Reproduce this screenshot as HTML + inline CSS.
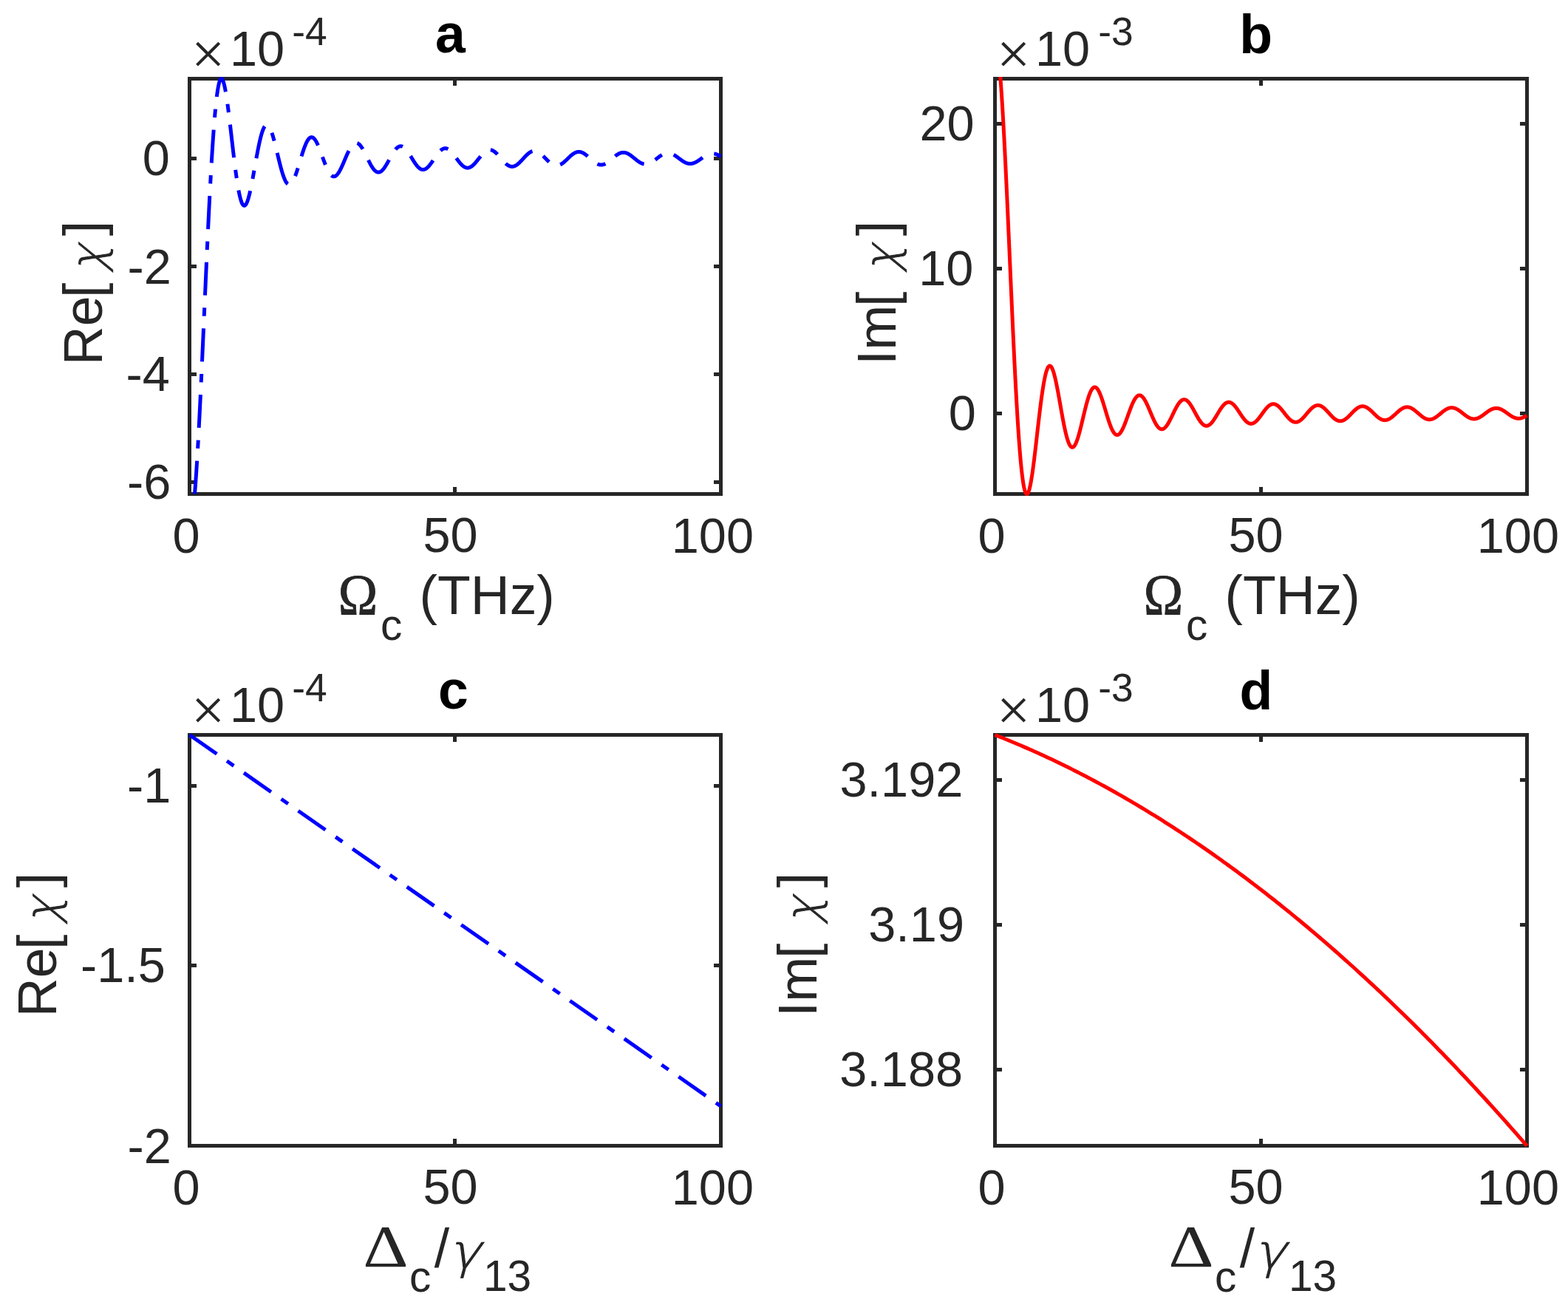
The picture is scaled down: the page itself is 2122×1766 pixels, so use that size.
<!DOCTYPE html>
<html lang="en"><head><meta charset="utf-8"><title>Susceptibility figure</title>
<style>
html,body{margin:0;padding:0;background:#fff;}
body{width:2122px;height:1766px;overflow:hidden;}
svg{display:block;}
text{font-family:"Liberation Sans",sans-serif;fill:#262626;}
.tk{font-size:66.67px;}
.ex{font-size:53.33px;}
.lb{font-size:73.33px;}
.sb{font-size:58.67px;}
.tt{font-size:73.33px;font-weight:bold;fill:#000;}
.gr{font-family:"Liberation Serif",serif;}
.om{font-family:"Liberation Serif",serif;stroke:#262626;stroke-width:0.9px;}
.gi{font-family:"Liberation Serif",serif;font-style:italic;}
.mi{font-family:"DejaVu Sans","Liberation Sans",sans-serif;font-weight:200;stroke:#262626;stroke-width:1px;}
</style></head><body>
<svg width="2122" height="1766" viewBox="0 0 2122 1766">
<rect width="2122" height="1766" fill="#fff"/>
<defs>
<clipPath id="clip-a"><rect x="254.0" y="104.0" width="724.0" height="567.0"/></clipPath>
<clipPath id="clip-b"><rect x="1344.0" y="104.0" width="725.0" height="567.0"/></clipPath>
<clipPath id="clip-c"><rect x="254.0" y="992.0" width="724.0" height="561.0"/></clipPath>
<clipPath id="clip-d"><rect x="1344.0" y="992.0" width="725.0" height="561.0"/></clipPath>
</defs>
<rect x="256.5" y="106.5" width="719.0" height="562.0" fill="none" stroke="#262626" stroke-width="5" shape-rendering="crispEdges"/>
<path d="M615.5 668.5v-9.5M615.5 106.5v9.5M256.5 214.5h9.5M975.5 214.5h-9.5M256.5 360.5h9.5M975.5 360.5h-9.5M256.5 506.5h9.5M975.5 506.5h-9.5M256.5 652.5h9.5M975.5 652.5h-9.5" fill="none" stroke="#262626" stroke-width="5" shape-rendering="crispEdges"/>
<rect x="1346.5" y="106.5" width="720.0" height="562.0" fill="none" stroke="#262626" stroke-width="5" shape-rendering="crispEdges"/>
<path d="M1706.5 668.5v-9.5M1706.5 106.5v9.5M1346.5 167.5h9.5M2066.5 167.5h-9.5M1346.5 363.5h9.5M2066.5 363.5h-9.5M1346.5 559.5h9.5M2066.5 559.5h-9.5" fill="none" stroke="#262626" stroke-width="5" shape-rendering="crispEdges"/>
<rect x="256.5" y="994.5" width="719.0" height="556.0" fill="none" stroke="#262626" stroke-width="5" shape-rendering="crispEdges"/>
<path d="M615.5 1550.5v-9.5M615.5 994.5v9.5M256.5 1063.0h9.5M975.5 1063.0h-9.5M256.5 1306.75h9.5M975.5 1306.75h-9.5" fill="none" stroke="#262626" stroke-width="5" shape-rendering="crispEdges"/>
<rect x="1346.5" y="994.5" width="720.0" height="556.0" fill="none" stroke="#262626" stroke-width="5" shape-rendering="crispEdges"/>
<path d="M1706.5 1550.5v-9.5M1706.5 994.5v9.5M1346.5 1055.0h9.5M2066.5 1055.0h-9.5M1346.5 1251.25h9.5M2066.5 1251.25h-9.5M1346.5 1447.5h9.5M2066.5 1447.5h-9.5" fill="none" stroke="#262626" stroke-width="5" shape-rendering="crispEdges"/>
<path d="M263.5 668.5L263.8 664.89L264.09 661.14L264.39 657.26L264.69 653.26L264.98 649.13L265.28 644.87L265.58 640.5L265.87 636.01L266.17 631.4L266.47 626.68L266.76 621.85L267.06 616.91L267.36 611.87L267.65 606.72L267.95 601.48L268.25 596.14L268.54 590.7L268.84 585.18L269.14 579.56L269.43 573.87L269.73 568.09L270.03 562.24L270.32 556.31L270.62 550.31L270.92 544.24L271.21 538.1L271.51 531.91L271.81 525.66L272.1 519.35L272.4 512.99L272.7 506.58L272.99 500.13L273.29 493.64L273.59 487.11L273.88 480.55L274.18 473.96L274.48 467.34L274.77 460.7L275.07 454.04L275.37 447.36L275.66 440.67L275.96 433.97L276.26 427.26L276.55 420.55L276.85 413.84L277.15 407.14L277.44 400.45L277.74 393.76L278.04 387.1L278.33 380.45L278.63 373.82L278.93 367.21L279.22 360.64L279.52 354.09L279.82 347.58L280.11 341.11L280.41 334.68L280.71 328.29L281 321.95L281.3 315.66L281.6 309.42L281.89 303.24L282.19 297.12L282.49 291.06L282.78 285.06L283.08 279.13L283.38 273.27L283.67 267.48L283.97 261.77L284.27 256.14L284.56 250.58L284.86 245.11L285.16 239.72L285.45 234.41L285.75 229.2L286.05 224.08L286.34 219.04L286.64 214.11L286.94 209.27L287.23 204.53L287.53 199.89L287.83 195.35L288.12 190.91L288.42 186.58L288.72 182.36L289.01 178.24L289.31 174.23L289.61 170.33L289.9 166.55L290.2 162.87L290.5 159.31L290.79 155.86L291.09 152.53L291.39 149.31L291.68 146.21L291.98 143.22L292.28 140.36L292.57 137.61L292.87 134.98L293.17 132.46L293.46 130.07L293.76 127.79L294.06 125.63L294.35 123.59L294.65 121.67L294.95 119.86L295.24 118.18L295.54 116.61L295.84 115.15L296.13 113.82L296.43 112.59L296.73 111.49L297.02 110.49L297.32 109.62L297.62 108.85L297.91 108.19L298.21 107.65L298.51 107.21L298.8 106.89L299.1 106.67L299.4 106.55L299.69 106.54L299.99 106.63L300.29 106.82L300.58 107.12L300.88 107.51L301.18 108L301.47 108.58L301.77 109.26L302.07 110.02L302.36 110.88L302.66 111.82L302.96 112.85L303.25 113.97L303.55 115.16L303.85 116.44L304.14 117.79L304.44 119.22L304.74 120.72L305.03 122.29L305.33 123.93L305.63 125.64L305.92 127.41L306.22 129.24L306.52 131.13L306.81 133.08L307.11 135.08L307.41 137.14L307.7 139.25L308 141.4L308.3 143.6L308.59 145.84L308.89 148.12L309.19 150.44L309.48 152.79L309.78 155.17L310.08 157.59L310.37 160.03L310.67 162.5L310.97 164.99L311.26 167.5L311.56 170.03L311.86 172.58L312.15 175.13L312.45 177.7L312.75 180.28L313.04 182.86L313.34 185.44L313.64 188.03L313.93 190.61L314.23 193.19L314.53 195.76L314.82 198.33L315.12 200.88L315.42 203.42L315.71 205.95L316.01 208.46L316.31 210.95L316.6 213.42L316.9 215.87L317.2 218.29L317.49 220.68L317.79 223.05L318.09 225.38L318.38 227.68L318.68 229.95L318.98 232.18L319.27 234.37L319.57 236.53L319.87 238.64L320.16 240.71L320.46 242.73L320.76 244.71L321.05 246.64L321.35 248.53L321.65 250.36L321.94 252.15L322.24 253.88L322.54 255.56L322.83 257.18L323.13 258.75L323.43 260.26L323.72 261.72L324.02 263.12L324.32 264.46L324.61 265.74L324.91 266.96L325.21 268.12L325.5 269.22L325.8 270.25L326.1 271.23L326.39 272.14L326.69 272.99L326.99 273.78L327.28 274.5L327.58 275.16L327.88 275.76L328.17 276.3L328.47 276.77L328.77 277.17L329.06 277.52L329.36 277.8L329.66 278.02L329.95 278.18L330.25 278.27L330.55 278.3L330.84 278.28L331.14 278.19L331.44 278.04L331.73 277.83L332.03 277.56L332.33 277.24L332.62 276.86L332.92 276.42L333.22 275.92L333.51 275.37L333.81 274.77L334.11 274.11L334.4 273.41L334.7 272.65L335 271.84L335.29 270.98L335.59 270.08L335.89 269.13L336.18 268.13L336.48 267.09L336.78 266.01L337.07 264.89L337.37 263.72L337.67 262.52L337.96 261.28L338.26 260.01L338.56 258.7L338.85 257.36L339.15 255.99L339.45 254.59L339.74 253.16L340.04 251.7L340.34 250.22L340.63 248.71L340.93 247.18L341.23 245.63L341.52 244.07L341.82 242.48L342.12 240.88L342.41 239.27L342.71 237.64L343.01 236L343.3 234.35L343.6 232.7L343.9 231.04L344.19 229.37L344.49 227.7L344.79 226.03L345.08 224.36L345.38 222.69L345.68 221.03L345.97 219.37L346.27 217.72L346.57 216.07L346.86 214.43L347.16 212.81L347.46 211.19L347.75 209.59L348.05 208.01L348.35 206.44L348.64 204.89L348.94 203.36L349.24 201.85L349.53 200.36L349.83 198.89L350.13 197.45L350.42 196.03L350.72 194.64L351.02 193.28L351.31 191.94L351.61 190.64L351.91 189.37L352.2 188.13L352.5 186.92L352.8 185.74L353.09 184.6L353.39 183.5L353.69 182.43L353.98 181.4L354.28 180.41L354.58 179.45L354.87 178.54L355.17 177.66L355.47 176.83L355.76 176.03L356.06 175.28L356.36 174.57L356.65 173.9L356.95 173.27L357.25 172.69L357.54 172.15L357.84 171.66L358.14 171.2L358.43 170.8L358.73 170.43L359.03 170.11L359.32 169.84L359.62 169.61L359.92 169.42L360.21 169.28L360.51 169.18L360.81 169.12L361.1 169.11L361.4 169.14L361.7 169.22L361.99 169.34L362.29 169.5L362.59 169.7L362.88 169.94L363.18 170.23L363.48 170.55L363.77 170.92L364.07 171.33L364.37 171.77L364.66 172.25L364.96 172.77L365.26 173.33L365.55 173.93L365.85 174.56L366.15 175.22L366.44 175.92L366.74 176.65L367.04 177.41L367.33 178.21L367.63 179.03L367.93 179.89L368.22 180.77L368.52 181.68L368.82 182.62L369.11 183.58L369.41 184.57L369.71 185.58L370 186.61L370.3 187.67L370.6 188.74L370.89 189.84L371.19 190.95L371.49 192.08L371.78 193.22L372.08 194.38L372.38 195.55L372.67 196.73L372.97 197.93L373.27 199.13L373.56 200.34L373.86 201.56L374.16 202.79L374.45 204.02L374.75 205.26L375.05 206.5L375.34 207.74L375.64 208.98L375.94 210.21L376.23 211.45L376.53 212.68L376.83 213.91L377.12 215.14L377.42 216.35L377.72 217.56L378.01 218.76L378.31 219.96L378.61 221.14L378.9 222.3L379.2 223.46L379.5 224.6L379.79 225.72L380.09 226.83L380.39 227.92L380.68 229L380.98 230.05L381.28 231.09L381.57 232.1L381.87 233.1L382.17 234.07L382.46 235.01L382.76 235.94L383.06 236.83L383.35 237.71L383.65 238.55L383.95 239.37L384.24 240.16L384.54 240.93L384.84 241.66L385.13 242.37L385.43 243.04L385.73 243.69L386.02 244.3L386.32 244.89L386.62 245.44L386.91 245.96L387.21 246.45L387.51 246.9L387.8 247.32L388.1 247.71L388.4 248.06L388.69 248.39L388.99 248.67L389.29 248.93L389.58 249.15L389.88 249.33L390.18 249.48L390.47 249.6L390.77 249.68L391.07 249.73L391.36 249.75L391.66 249.73L391.96 249.67L392.25 249.59L392.55 249.47L392.85 249.32L393.14 249.13L393.44 248.92L393.74 248.67L394.03 248.39L394.33 248.08L394.63 247.73L394.92 247.36L395.22 246.96L395.52 246.53L395.81 246.07L396.11 245.58L396.41 245.06L396.7 244.52L397 243.95L397.3 243.36L397.59 242.74L397.89 242.09L398.19 241.42L398.48 240.73L398.78 240.02L399.08 239.28L399.37 238.53L399.67 237.75L399.97 236.96L400.26 236.15L400.56 235.32L400.86 234.47L401.15 233.61L401.45 232.73L401.75 231.84L402.04 230.94L402.34 230.02L402.64 229.09L402.93 228.16L403.23 227.21L403.53 226.26L403.82 225.3L404.12 224.33L404.42 223.35L404.71 222.38L405.01 221.39L405.31 220.41L405.6 219.42L405.9 218.44L406.2 217.45L406.49 216.46L406.79 215.48L407.09 214.5L407.38 213.52L407.68 212.55L407.98 211.58L408.27 210.62L408.57 209.67L408.87 208.73L409.16 207.79L409.46 206.86L409.76 205.95L410.05 205.05L410.35 204.16L410.65 203.28L410.94 202.42L411.24 201.57L411.54 200.74L411.83 199.92L412.13 199.12L412.43 198.34L412.72 197.58L413.02 196.84L413.32 196.11L413.61 195.41L413.91 194.73L414.21 194.07L414.5 193.43L414.8 192.81L415.1 192.22L415.39 191.65L415.69 191.1L415.99 190.58L416.28 190.08L416.58 189.61L416.88 189.16L417.17 188.74L417.47 188.35L417.77 187.98L418.06 187.64L418.36 187.33L418.66 187.04L418.95 186.78L419.25 186.55L419.55 186.34L419.84 186.17L420.14 186.02L420.44 185.9L420.73 185.8L421.03 185.74L421.33 185.7L421.62 185.69L421.92 185.7L422.22 185.75L422.51 185.82L422.81 185.92L423.11 186.05L423.4 186.2L423.7 186.38L424 186.58L424.29 186.81L424.59 187.07L424.89 187.35L425.18 187.66L425.48 187.99L425.78 188.35L426.07 188.73L426.37 189.13L426.67 189.56L426.96 190.01L427.26 190.48L427.56 190.97L427.85 191.48L428.15 192.01L428.45 192.56L428.74 193.14L429.04 193.73L429.34 194.33L429.63 194.96L429.93 195.6L430.23 196.26L430.52 196.93L430.82 197.62L431.12 198.32L431.41 199.03L431.71 199.76L432.01 200.49L432.3 201.24L432.6 202L432.9 202.77L433.19 203.55L433.49 204.33L433.79 205.12L434.08 205.92L434.38 206.72L434.68 207.53L434.97 208.35L435.27 209.16L435.57 209.98L435.86 210.8L436.16 211.62L436.46 212.44L436.75 213.26L437.05 214.08L437.35 214.89L437.64 215.71L437.94 216.52L438.24 217.32L438.53 218.12L438.83 218.91L439.13 219.7L439.42 220.48L439.72 221.25L440.02 222.01L440.31 222.76L440.61 223.5L440.91 224.23L441.2 224.95L441.5 225.66L441.8 226.35L442.09 227.03L442.39 227.7L442.69 228.35L442.98 228.99L443.28 229.61L443.58 230.21L443.87 230.8L444.17 231.37L444.47 231.92L444.76 232.45L445.06 232.97L445.36 233.46L445.65 233.94L445.95 234.39L446.25 234.83L446.54 235.24L446.84 235.63L447.14 236.01L447.43 236.36L447.73 236.68L448.03 236.99L448.32 237.27L448.62 237.53L448.92 237.77L449.21 237.98L449.51 238.18L449.81 238.34L450.1 238.49L450.4 238.61L450.7 238.71L450.99 238.78L451.29 238.84L451.59 238.86L451.88 238.87L452.18 238.85L452.48 238.81L452.77 238.74L453.07 238.65L453.37 238.54L453.66 238.41L453.96 238.25L454.26 238.07L454.55 237.87L454.85 237.65L455.15 237.41L455.44 237.14L455.74 236.86L456.04 236.55L456.33 236.23L456.63 235.88L456.93 235.51L457.22 235.13L457.52 234.73L457.82 234.31L458.11 233.87L458.41 233.41L458.71 232.94L459 232.45L459.3 231.94L459.6 231.42L459.89 230.89L460.19 230.34L460.49 229.78L460.78 229.2L461.08 228.61L461.38 228.01L461.67 227.4L461.97 226.78L462.27 226.15L462.56 225.51L462.86 224.86L463.16 224.2L463.45 223.54L463.75 222.87L464.05 222.19L464.34 221.51L464.64 220.82L464.94 220.13L465.23 219.43L465.53 218.73L465.83 218.03L466.12 217.33L466.42 216.63L466.72 215.93L467.01 215.23L467.31 214.53L467.61 213.83L467.9 213.13L468.2 212.44L468.5 211.75L468.79 211.07L469.09 210.39L469.39 209.71L469.68 209.05L469.98 208.39L470.28 207.74L470.57 207.09L470.87 206.46L471.17 205.83L471.46 205.22L471.76 204.61L472.06 204.02L472.35 203.44L472.65 202.87L472.95 202.31L473.24 201.77L473.54 201.24L473.84 200.72L474.13 200.22L474.43 199.73L474.73 199.26L475.02 198.81L475.32 198.37L475.62 197.95L475.91 197.54L476.21 197.15L476.51 196.78L476.8 196.43L477.1 196.09L477.4 195.78L477.69 195.48L477.99 195.2L478.29 194.95L478.58 194.71L478.88 194.49L479.18 194.29L479.47 194.11L479.77 193.95L480.07 193.81L480.36 193.68L480.66 193.59L480.96 193.51L481.25 193.45L481.55 193.41L481.85 193.39L482.14 193.39L482.44 193.41L482.74 193.45L483.03 193.52L483.33 193.6L483.63 193.7L483.92 193.82L484.22 193.96L484.52 194.12L484.81 194.3L485.11 194.5L485.41 194.71L485.7 194.95L486 195.2L486.3 195.47L486.59 195.76L486.89 196.07L487.19 196.39L487.48 196.73L487.78 197.08L488.08 197.45L488.37 197.84L488.67 198.24L488.97 198.65L489.26 199.08L489.56 199.53L489.86 199.98L490.15 200.45L490.45 200.93L490.75 201.43L491.04 201.93L491.34 202.45L491.64 202.97L491.93 203.51L492.23 204.05L492.53 204.6L492.82 205.16L493.12 205.73L493.42 206.31L493.71 206.89L494.01 207.48L494.31 208.07L494.6 208.67L494.9 209.27L495.2 209.87L495.49 210.48L495.79 211.09L496.09 211.71L496.38 212.32L496.68 212.93L496.98 213.55L497.27 214.16L497.57 214.77L497.87 215.38L498.16 215.99L498.46 216.59L498.76 217.2L499.05 217.79L499.35 218.39L499.65 218.97L499.94 219.56L500.24 220.13L500.54 220.7L500.83 221.26L501.13 221.82L501.43 222.36L501.72 222.9L502.02 223.43L502.32 223.94L502.61 224.45L502.91 224.95L503.21 225.43L503.5 225.91L503.8 226.37L504.1 226.82L504.39 227.25L504.69 227.68L504.99 228.09L505.28 228.48L505.58 228.86L505.88 229.23L506.17 229.58L506.47 229.92L506.77 230.24L507.06 230.54L507.36 230.83L507.66 231.1L507.95 231.36L508.25 231.6L508.55 231.82L508.84 232.03L509.14 232.22L509.44 232.39L509.73 232.54L510.03 232.67L510.33 232.79L510.62 232.89L510.92 232.97L511.22 233.04L511.51 233.09L511.81 233.11L512.11 233.13L512.4 233.12L512.7 233.09L513 233.05L513.29 232.99L513.59 232.91L513.89 232.82L514.18 232.71L514.48 232.58L514.78 232.43L515.07 232.27L515.37 232.09L515.67 231.89L515.96 231.68L516.26 231.45L516.56 231.2L516.85 230.94L517.15 230.67L517.45 230.38L517.74 230.08L518.04 229.76L518.34 229.42L518.63 229.08L518.93 228.72L519.23 228.35L519.52 227.96L519.82 227.57L520.12 227.16L520.41 226.74L520.71 226.31L521.01 225.87L521.3 225.42L521.6 224.96L521.9 224.49L522.19 224.02L522.49 223.53L522.79 223.04L523.08 222.54L523.38 222.03L523.68 221.52L523.97 221L524.27 220.48L524.57 219.95L524.86 219.42L525.16 218.89L525.46 218.35L525.75 217.81L526.05 217.27L526.35 216.72L526.64 216.18L526.94 215.63L527.24 215.09L527.53 214.54L527.83 214L528.13 213.46L528.42 212.92L528.72 212.38L529.02 211.85L529.31 211.32L529.61 210.79L529.91 210.27L530.2 209.75L530.5 209.24L530.8 208.74L531.09 208.24L531.39 207.75L531.69 207.27L531.98 206.79L532.28 206.33L532.58 205.87L532.87 205.42L533.17 204.98L533.47 204.55L533.76 204.13L534.06 203.73L534.36 203.33L534.65 202.95L534.95 202.57L535.25 202.21L535.54 201.86L535.84 201.53L536.14 201.21L536.43 200.9L536.73 200.6L537.03 200.32L537.32 200.05L537.62 199.8L537.92 199.56L538.21 199.34L538.51 199.13L538.81 198.94L539.1 198.76L539.4 198.6L539.7 198.45L539.99 198.32L540.29 198.2L540.59 198.1L540.88 198.02L541.18 197.95L541.48 197.9L541.77 197.86L542.07 197.84L542.37 197.84L542.66 197.85L542.96 197.88L543.26 197.92L543.55 197.98L543.85 198.06L544.15 198.15L544.44 198.25L544.74 198.37L545.04 198.51L545.33 198.66L545.63 198.83L545.93 199.01L546.22 199.21L546.52 199.42L546.82 199.64L547.11 199.88L547.41 200.13L547.71 200.39L548 200.67L548.3 200.96L548.6 201.26L548.89 201.58L549.19 201.9L549.49 202.24L549.78 202.59L550.08 202.95L550.38 203.32L550.67 203.7L550.97 204.09L551.27 204.48L551.56 204.89L551.86 205.31L552.16 205.73L552.45 206.16L552.75 206.6L553.05 207.04L553.34 207.49L553.64 207.95L553.94 208.41L554.23 208.88L554.53 209.35L554.83 209.83L555.12 210.31L555.42 210.79L555.72 211.27L556.01 211.76L556.31 212.25L556.61 212.74L556.9 213.23L557.2 213.72L557.5 214.21L557.79 214.7L558.09 215.19L558.39 215.67L558.68 216.16L558.98 216.64L559.28 217.12L559.57 217.6L559.87 218.07L560.17 218.54L560.46 219L560.76 219.46L561.06 219.91L561.35 220.35L561.65 220.79L561.95 221.23L562.24 221.65L562.54 222.07L562.84 222.48L563.13 222.88L563.43 223.27L563.73 223.65L564.02 224.03L564.32 224.39L564.62 224.75L564.91 225.09L565.21 225.42L565.51 225.74L565.8 226.05L566.1 226.35L566.4 226.64L566.69 226.91L566.99 227.17L567.29 227.42L567.58 227.66L567.88 227.88L568.18 228.09L568.47 228.29L568.77 228.47L569.07 228.64L569.36 228.8L569.66 228.94L569.96 229.07L570.25 229.18L570.55 229.28L570.85 229.37L571.14 229.44L571.44 229.49L571.74 229.53L572.03 229.56L572.33 229.57L572.63 229.57L572.92 229.56L573.22 229.52L573.52 229.48L573.81 229.42L574.11 229.35L574.41 229.26L574.7 229.16L575 229.04L575.3 228.91L575.59 228.77L575.89 228.62L576.19 228.45L576.48 228.27L576.78 228.07L577.08 227.86L577.37 227.64L577.67 227.41L577.97 227.17L578.26 226.91L578.56 226.64L578.86 226.37L579.15 226.08L579.45 225.78L579.75 225.47L580.04 225.15L580.34 224.82L580.64 224.48L580.93 224.13L581.23 223.78L581.53 223.41L581.82 223.04L582.12 222.66L582.42 222.27L582.71 221.88L583.01 221.48L583.31 221.07L583.6 220.66L583.9 220.25L584.2 219.82L584.49 219.4L584.79 218.97L585.09 218.54L585.38 218.1L585.68 217.66L585.98 217.22L586.27 216.78L586.57 216.33L586.87 215.89L587.16 215.44L587.46 215L587.76 214.55L588.05 214.11L588.35 213.66L588.65 213.22L588.94 212.78L589.24 212.34L589.54 211.91L589.83 211.48L590.13 211.05L590.43 210.63L590.72 210.21L591.02 209.79L591.32 209.38L591.61 208.98L591.91 208.58L592.21 208.19L592.5 207.81L592.8 207.43L593.1 207.06L593.39 206.7L593.69 206.34L593.99 206L594.28 205.66L594.58 205.33L594.88 205.01L595.17 204.71L595.47 204.41L595.77 204.12L596.06 203.84L596.36 203.57L596.66 203.31L596.95 203.07L597.25 202.84L597.55 202.61L597.84 202.4L598.14 202.2L598.44 202.02L598.73 201.84L599.03 201.68L599.33 201.53L599.62 201.39L599.92 201.27L600.22 201.16L600.51 201.06L600.81 200.97L601.11 200.9L601.4 200.84L601.7 200.8L602 200.76L602.29 200.74L602.59 200.74L602.89 200.74L603.18 200.76L603.48 200.8L603.78 200.84L604.07 200.9L604.37 200.98L604.67 201.06L604.96 201.16L605.26 201.27L605.56 201.39L605.85 201.53L606.15 201.67L606.45 201.83L606.74 202L607.04 202.19L607.34 202.38L607.63 202.59L607.93 202.8L608.23 203.03L608.52 203.27L608.82 203.52L609.12 203.77L609.41 204.04L609.71 204.32L610.01 204.61L610.3 204.9L610.6 205.21L610.9 205.52L611.19 205.84L611.49 206.17L611.79 206.51L612.08 206.85L612.38 207.2L612.68 207.56L612.97 207.92L613.27 208.29L613.57 208.66L613.86 209.04L614.16 209.42L614.46 209.81L614.75 210.2L615.05 210.6L615.35 210.99L615.64 211.39L615.94 211.8L616.24 212.2L616.53 212.61L616.83 213.02L617.13 213.42L617.42 213.83L617.72 214.24L618.02 214.65L618.31 215.06L618.61 215.46L618.91 215.87L619.2 216.27L619.5 216.67L619.8 217.07L620.09 217.46L620.39 217.85L620.69 218.24L620.98 218.62L621.28 219L621.58 219.37L621.87 219.74L622.17 220.1L622.47 220.46L622.76 220.81L623.06 221.15L623.36 221.49L623.65 221.82L623.95 222.14L624.25 222.46L624.54 222.76L624.84 223.06L625.14 223.35L625.43 223.63L625.73 223.9L626.03 224.16L626.32 224.41L626.62 224.65L626.92 224.89L627.21 225.11L627.51 225.32L627.81 225.52L628.1 225.71L628.4 225.89L628.7 226.05L628.99 226.21L629.29 226.35L629.59 226.49L629.88 226.61L630.18 226.72L630.48 226.81L630.77 226.9L631.07 226.97L631.37 227.03L631.66 227.08L631.96 227.12L632.26 227.15L632.55 227.16L632.85 227.16L633.15 227.15L633.44 227.12L633.74 227.09L634.04 227.04L634.33 226.98L634.63 226.91L634.93 226.83L635.22 226.73L635.52 226.63L635.82 226.51L636.11 226.38L636.41 226.24L636.71 226.09L637 225.93L637.3 225.76L637.6 225.57L637.89 225.38L638.19 225.18L638.49 224.96L638.78 224.74L639.08 224.51L639.38 224.27L639.67 224.01L639.97 223.75L640.27 223.49L640.56 223.21L640.86 222.93L641.16 222.64L641.45 222.34L641.75 222.03L642.05 221.72L642.34 221.4L642.64 221.07L642.94 220.74L643.23 220.41L643.53 220.06L643.83 219.72L644.12 219.37L644.42 219.01L644.72 218.65L645.01 218.29L645.31 217.93L645.61 217.56L645.9 217.19L646.2 216.81L646.5 216.44L646.79 216.06L647.09 215.69L647.39 215.31L647.68 214.93L647.98 214.56L648.28 214.18L648.57 213.81L648.87 213.43L649.17 213.06L649.46 212.69L649.76 212.32L650.06 211.95L650.35 211.59L650.65 211.23L650.95 210.88L651.24 210.52L651.54 210.18L651.84 209.83L652.13 209.5L652.43 209.16L652.73 208.84L653.02 208.52L653.32 208.2L653.62 207.89L653.91 207.59L654.21 207.3L654.51 207.01L654.8 206.73L655.1 206.46L655.4 206.19L655.69 205.94L655.99 205.69L656.29 205.45L656.58 205.23L656.88 205.01L657.18 204.8L657.47 204.6L657.77 204.4L658.07 204.22L658.36 204.05L658.66 203.89L658.96 203.74L659.25 203.6L659.55 203.47L659.85 203.35L660.14 203.25L660.44 203.15L660.74 203.06L661.03 202.99L661.33 202.93L661.63 202.87L661.92 202.83L662.22 202.8L662.52 202.79L662.81 202.78L663.11 202.78L663.41 202.8L663.7 202.82L664 202.86L664.3 202.91L664.59 202.97L664.89 203.04L665.19 203.12L665.48 203.21L665.78 203.32L666.08 203.43L666.37 203.55L666.67 203.69L666.97 203.83L667.26 203.99L667.56 204.15L667.86 204.32L668.15 204.51L668.45 204.7L668.75 204.9L669.04 205.11L669.34 205.33L669.64 205.56L669.93 205.79L670.23 206.04L670.53 206.29L670.82 206.55L671.12 206.81L671.42 207.09L671.71 207.37L672.01 207.65L672.31 207.95L672.6 208.25L672.9 208.55L673.2 208.86L673.49 209.17L673.79 209.49L674.09 209.81L674.38 210.14L674.68 210.47L674.98 210.81L675.27 211.14L675.57 211.48L675.87 211.83L676.16 212.17L676.46 212.52L676.76 212.87L677.05 213.21L677.35 213.56L677.65 213.91L677.94 214.26L678.24 214.61L678.54 214.96L678.83 215.31L679.13 215.66L679.43 216L679.72 216.35L680.02 216.69L680.32 217.03L680.61 217.36L680.91 217.7L681.21 218.02L681.5 218.35L681.8 218.67L682.1 218.99L682.39 219.3L682.69 219.61L682.99 219.91L683.28 220.2L683.58 220.49L683.88 220.78L684.17 221.05L684.47 221.33L684.77 221.59L685.06 221.85L685.36 222.1L685.66 222.34L685.95 222.57L686.25 222.8L686.55 223.02L686.84 223.22L687.14 223.43L687.44 223.62L687.73 223.8L688.03 223.97L688.33 224.14L688.62 224.29L688.92 224.44L689.22 224.57L689.51 224.7L689.81 224.82L690.11 224.92L690.4 225.02L690.7 225.1L691 225.18L691.29 225.24L691.59 225.3L691.89 225.34L692.18 225.37L692.48 225.4L692.78 225.41L693.07 225.41L693.37 225.4L693.67 225.39L693.96 225.36L694.26 225.32L694.56 225.27L694.85 225.21L695.15 225.14L695.45 225.06L695.74 224.97L696.04 224.87L696.34 224.76L696.63 224.64L696.93 224.51L697.23 224.37L697.52 224.22L697.82 224.07L698.12 223.9L698.41 223.73L698.71 223.54L699.01 223.35L699.3 223.15L699.6 222.95L699.9 222.73L700.19 222.51L700.49 222.28L700.79 222.04L701.08 221.79L701.38 221.54L701.68 221.29L701.97 221.02L702.27 220.75L702.57 220.48L702.86 220.2L703.16 219.91L703.46 219.62L703.75 219.33L704.05 219.03L704.35 218.72L704.64 218.42L704.94 218.11L705.24 217.79L705.53 217.48L705.83 217.16L706.13 216.84L706.42 216.52L706.72 216.19L707.02 215.87L707.31 215.54L707.61 215.22L707.91 214.89L708.2 214.56L708.5 214.24L708.8 213.91L709.09 213.59L709.39 213.26L709.69 212.94L709.98 212.62L710.28 212.3L710.58 211.99L710.87 211.68L711.17 211.37L711.47 211.06L711.76 210.76L712.06 210.46L712.36 210.17L712.65 209.88L712.95 209.6L713.25 209.32L713.54 209.04L713.84 208.77L714.14 208.51L714.43 208.25L714.73 208L715.03 207.76L715.32 207.52L715.62 207.29L715.92 207.07L716.21 206.85L716.51 206.65L716.81 206.45L717.1 206.25L717.4 206.07L717.7 205.9L717.99 205.73L718.29 205.57L718.59 205.42L718.88 205.28L719.18 205.15L719.48 205.02L719.77 204.91L720.07 204.81L720.37 204.71L720.66 204.63L720.96 204.55L721.26 204.48L721.55 204.43L721.85 204.38L722.15 204.34L722.44 204.32L722.74 204.3L723.04 204.29L723.33 204.29L723.63 204.31L723.93 204.33L724.22 204.36L724.52 204.4L724.82 204.45L725.11 204.51L725.41 204.58L725.71 204.66L726 204.75L726.3 204.84L726.6 204.95L726.89 205.07L727.19 205.19L727.49 205.32L727.78 205.47L728.08 205.62L728.38 205.78L728.67 205.94L728.97 206.12L729.27 206.3L729.56 206.49L729.86 206.69L730.16 206.89L730.45 207.1L730.75 207.32L731.05 207.55L731.34 207.78L731.64 208.02L731.94 208.26L732.23 208.51L732.53 208.77L732.83 209.03L733.12 209.29L733.42 209.56L733.72 209.83L734.01 210.11L734.31 210.39L734.61 210.68L734.9 210.97L735.2 211.26L735.5 211.56L735.79 211.85L736.09 212.15L736.39 212.45L736.68 212.76L736.98 213.06L737.28 213.36L737.57 213.67L737.87 213.98L738.17 214.28L738.46 214.59L738.76 214.89L739.06 215.2L739.35 215.5L739.65 215.8L739.95 216.11L740.24 216.4L740.54 216.7L740.84 217L741.13 217.29L741.43 217.58L741.73 217.86L742.02 218.14L742.32 218.42L742.62 218.69L742.91 218.96L743.21 219.23L743.51 219.49L743.8 219.74L744.1 219.99L744.4 220.24L744.69 220.47L744.99 220.71L745.29 220.93L745.58 221.15L745.88 221.36L746.18 221.57L746.47 221.77L746.77 221.96L747.07 222.15L747.36 222.32L747.66 222.49L747.96 222.65L748.25 222.81L748.55 222.95L748.85 223.09L749.14 223.22L749.44 223.34L749.74 223.45L750.03 223.55L750.33 223.65L750.63 223.73L750.92 223.81L751.22 223.87L751.52 223.93L751.81 223.98L752.11 224.02L752.41 224.05L752.7 224.07L753 224.09L753.3 224.09L753.59 224.08L753.89 224.07L754.19 224.04L754.48 224.01L754.78 223.97L755.08 223.92L755.37 223.86L755.67 223.79L755.97 223.71L756.26 223.62L756.56 223.53L756.86 223.42L757.15 223.31L757.45 223.19L757.75 223.06L758.04 222.92L758.34 222.78L758.64 222.63L758.93 222.47L759.23 222.3L759.53 222.12L759.82 221.94L760.12 221.75L760.42 221.56L760.71 221.36L761.01 221.15L761.31 220.93L761.6 220.71L761.9 220.49L762.2 220.25L762.49 220.02L762.79 219.78L763.09 219.53L763.38 219.28L763.68 219.02L763.98 218.76L764.27 218.5L764.57 218.23L764.87 217.96L765.16 217.69L765.46 217.41L765.76 217.14L766.05 216.86L766.35 216.57L766.65 216.29L766.94 216L767.24 215.72L767.54 215.43L767.83 215.14L768.13 214.85L768.43 214.57L768.72 214.28L769.02 213.99L769.32 213.71L769.61 213.42L769.91 213.14L770.21 212.85L770.5 212.57L770.8 212.29L771.1 212.02L771.39 211.75L771.69 211.47L771.99 211.21L772.28 210.94L772.58 210.68L772.88 210.43L773.17 210.18L773.47 209.93L773.77 209.69L774.06 209.45L774.36 209.22L774.66 208.99L774.95 208.77L775.25 208.55L775.55 208.34L775.84 208.14L776.14 207.94L776.44 207.75L776.73 207.56L777.03 207.39L777.33 207.21L777.62 207.05L777.92 206.9L778.22 206.75L778.51 206.61L778.81 206.47L779.11 206.35L779.4 206.23L779.7 206.12L780 206.02L780.29 205.92L780.59 205.84L780.89 205.76L781.18 205.7L781.48 205.64L781.78 205.58L782.07 205.54L782.37 205.51L782.67 205.48L782.96 205.47L783.26 205.46L783.56 205.46L783.85 205.47L784.15 205.49L784.45 205.51L784.74 205.55L785.04 205.59L785.34 205.65L785.63 205.71L785.93 205.78L786.23 205.85L786.52 205.94L786.82 206.03L787.12 206.13L787.41 206.24L787.71 206.36L788.01 206.49L788.3 206.62L788.6 206.76L788.9 206.9L789.19 207.06L789.49 207.22L789.79 207.39L790.08 207.56L790.38 207.74L790.68 207.93L790.97 208.12L791.27 208.32L791.57 208.53L791.86 208.74L792.16 208.95L792.46 209.18L792.75 209.4L793.05 209.63L793.35 209.87L793.64 210.1L793.94 210.35L794.24 210.59L794.53 210.84L794.83 211.1L795.13 211.35L795.42 211.61L795.72 211.87L796.02 212.14L796.31 212.4L796.61 212.67L796.91 212.94L797.2 213.21L797.5 213.48L797.8 213.75L798.09 214.02L798.39 214.3L798.69 214.57L798.98 214.84L799.28 215.11L799.58 215.38L799.87 215.65L800.17 215.92L800.47 216.18L800.76 216.45L801.06 216.71L801.36 216.97L801.65 217.23L801.95 217.48L802.25 217.73L802.54 217.98L802.84 218.22L803.14 218.46L803.43 218.7L803.73 218.93L804.03 219.16L804.32 219.38L804.62 219.6L804.92 219.81L805.21 220.02L805.51 220.22L805.81 220.42L806.1 220.61L806.4 220.79L806.7 220.97L806.99 221.14L807.29 221.3L807.59 221.46L807.88 221.61L808.18 221.76L808.48 221.9L808.77 222.03L809.07 222.15L809.37 222.26L809.66 222.37L809.96 222.47L810.26 222.56L810.55 222.65L810.85 222.73L811.15 222.79L811.44 222.86L811.74 222.91L812.04 222.95L812.33 222.99L812.63 223.02L812.93 223.04L813.22 223.05L813.52 223.05L813.82 223.05L814.11 223.04L814.41 223.02L814.71 222.99L815 222.95L815.3 222.9L815.6 222.85L815.89 222.79L816.19 222.72L816.49 222.64L816.78 222.56L817.08 222.47L817.38 222.37L817.67 222.26L817.97 222.15L818.27 222.03L818.56 221.9L818.86 221.76L819.16 221.62L819.45 221.47L819.75 221.32L820.05 221.15L820.34 220.99L820.64 220.81L820.94 220.63L821.23 220.45L821.53 220.25L821.83 220.06L822.12 219.86L822.42 219.65L822.72 219.44L823.01 219.22L823.31 219L823.61 218.78L823.9 218.55L824.2 218.32L824.5 218.09L824.79 217.85L825.09 217.61L825.39 217.36L825.68 217.12L825.98 216.87L826.28 216.62L826.57 216.36L826.87 216.11L827.17 215.86L827.46 215.6L827.76 215.34L828.06 215.09L828.35 214.83L828.65 214.57L828.95 214.31L829.24 214.06L829.54 213.8L829.84 213.54L830.13 213.29L830.43 213.04L830.73 212.78L831.02 212.54L831.32 212.29L831.62 212.04L831.91 211.8L832.21 211.56L832.51 211.33L832.8 211.09L833.1 210.86L833.4 210.64L833.69 210.41L833.99 210.2L834.29 209.98L834.58 209.77L834.88 209.57L835.18 209.37L835.47 209.18L835.77 208.99L836.07 208.8L836.36 208.63L836.66 208.46L836.96 208.29L837.25 208.13L837.55 207.98L837.85 207.83L838.14 207.69L838.44 207.55L838.74 207.43L839.03 207.31L839.33 207.19L839.63 207.09L839.92 206.99L840.22 206.9L840.52 206.81L840.81 206.74L841.11 206.67L841.41 206.6L841.7 206.55L842 206.5L842.3 206.46L842.59 206.43L842.89 206.41L843.19 206.39L843.48 206.39L843.78 206.39L844.08 206.39L844.37 206.41L844.67 206.43L844.97 206.46L845.26 206.5L845.56 206.55L845.86 206.6L846.15 206.66L846.45 206.73L846.75 206.81L847.04 206.89L847.34 206.98L847.64 207.08L847.93 207.18L848.23 207.3L848.53 207.41L848.82 207.54L849.12 207.67L849.42 207.81L849.71 207.95L850.01 208.1L850.31 208.26L850.6 208.42L850.9 208.59L851.2 208.76L851.49 208.94L851.79 209.13L852.09 209.31L852.38 209.51L852.68 209.71L852.98 209.91L853.27 210.11L853.57 210.33L853.87 210.54L854.16 210.76L854.46 210.98L854.76 211.2L855.05 211.43L855.35 211.66L855.65 211.89L855.94 212.13L856.24 212.37L856.54 212.6L856.83 212.84L857.13 213.09L857.43 213.33L857.72 213.57L858.02 213.82L858.32 214.06L858.61 214.31L858.91 214.55L859.21 214.8L859.5 215.04L859.8 215.28L860.1 215.53L860.39 215.77L860.69 216.01L860.99 216.24L861.28 216.48L861.58 216.71L861.88 216.95L862.17 217.17L862.47 217.4L862.77 217.62L863.06 217.84L863.36 218.06L863.66 218.27L863.95 218.48L864.25 218.69L864.55 218.89L864.84 219.09L865.14 219.28L865.44 219.46L865.73 219.65L866.03 219.82L866.33 220L866.62 220.16L866.92 220.32L867.22 220.48L867.51 220.63L867.81 220.77L868.11 220.91L868.4 221.04L868.7 221.16L869 221.28L869.29 221.39L869.59 221.5L869.89 221.59L870.18 221.69L870.48 221.77L870.78 221.85L871.07 221.92L871.37 221.98L871.67 222.03L871.96 222.08L872.26 222.12L872.56 222.16L872.85 222.18L873.15 222.2L873.45 222.21L873.74 222.22L874.04 222.21L874.34 222.2L874.63 222.19L874.93 222.16L875.23 222.13L875.52 222.09L875.82 222.04L876.12 221.99L876.41 221.92L876.71 221.86L877.01 221.78L877.3 221.7L877.6 221.61L877.9 221.51L878.19 221.41L878.49 221.3L878.79 221.19L879.08 221.06L879.38 220.94L879.68 220.8L879.97 220.66L880.27 220.52L880.57 220.37L880.86 220.21L881.16 220.05L881.46 219.88L881.75 219.71L882.05 219.53L882.35 219.35L882.64 219.16L882.94 218.97L883.24 218.78L883.53 218.58L883.83 218.38L884.13 218.17L884.42 217.96L884.72 217.75L885.02 217.53L885.31 217.32L885.61 217.1L885.91 216.87L886.2 216.65L886.5 216.42L886.8 216.2L887.09 215.97L887.39 215.74L887.69 215.5L887.98 215.27L888.28 215.04L888.58 214.81L888.87 214.57L889.17 214.34L889.47 214.11L889.76 213.87L890.06 213.64L890.36 213.41L890.65 213.18L890.95 212.96L891.25 212.73L891.54 212.51L891.84 212.28L892.14 212.07L892.43 211.85L892.73 211.63L893.03 211.42L893.32 211.21L893.62 211.01L893.92 210.81L894.21 210.61L894.51 210.42L894.81 210.23L895.1 210.04L895.4 209.86L895.7 209.69L895.99 209.51L896.29 209.35L896.59 209.19L896.88 209.03L897.18 208.88L897.48 208.73L897.77 208.59L898.07 208.46L898.37 208.33L898.66 208.21L898.96 208.09L899.26 207.98L899.55 207.88L899.85 207.78L900.15 207.69L900.44 207.61L900.74 207.53L901.04 207.46L901.33 207.4L901.63 207.34L901.93 207.29L902.22 207.25L902.52 207.22L902.82 207.19L903.11 207.16L903.41 207.15L903.71 207.14L904 207.14L904.3 207.15L904.6 207.16L904.89 207.18L905.19 207.21L905.49 207.24L905.78 207.28L906.08 207.33L906.38 207.39L906.67 207.45L906.97 207.52L907.27 207.59L907.56 207.67L907.86 207.76L908.16 207.86L908.45 207.96L908.75 208.06L909.05 208.18L909.34 208.3L909.64 208.42L909.94 208.55L910.23 208.69L910.53 208.83L910.83 208.98L911.12 209.13L911.42 209.28L911.72 209.45L912.01 209.61L912.31 209.78L912.61 209.96L912.9 210.14L913.2 210.32L913.5 210.51L913.79 210.7L914.09 210.89L914.39 211.09L914.68 211.29L914.98 211.5L915.28 211.7L915.57 211.91L915.87 212.12L916.17 212.34L916.46 212.55L916.76 212.77L917.06 212.99L917.35 213.21L917.65 213.43L917.95 213.65L918.24 213.87L918.54 214.09L918.84 214.32L919.13 214.54L919.43 214.76L919.73 214.98L920.02 215.2L920.32 215.42L920.62 215.64L920.91 215.86L921.21 216.08L921.51 216.29L921.8 216.51L922.1 216.72L922.4 216.92L922.69 217.13L922.99 217.33L923.29 217.53L923.58 217.73L923.88 217.93L924.18 218.12L924.47 218.3L924.77 218.49L925.07 218.67L925.36 218.84L925.66 219.01L925.96 219.18L926.25 219.34L926.55 219.5L926.85 219.65L927.14 219.79L927.44 219.94L927.74 220.07L928.03 220.2L928.33 220.33L928.63 220.45L928.92 220.56L929.22 220.67L929.52 220.77L929.81 220.87L930.11 220.96L930.41 221.04L930.7 221.12L931 221.19L931.3 221.25L931.59 221.31L931.89 221.36L932.19 221.41L932.48 221.44L932.78 221.47L933.08 221.5L933.37 221.52L933.67 221.53L933.97 221.53L934.26 221.53L934.56 221.52L934.86 221.5L935.15 221.48L935.45 221.45L935.75 221.42L936.04 221.37L936.34 221.33L936.64 221.27L936.93 221.21L937.23 221.14L937.53 221.06L937.82 220.98L938.12 220.9L938.42 220.8L938.71 220.7L939.01 220.6L939.31 220.49L939.6 220.37L939.9 220.25L940.2 220.12L940.49 219.99L940.79 219.85L941.09 219.71L941.38 219.56L941.68 219.41L941.98 219.26L942.27 219.09L942.57 218.93L942.87 218.76L943.16 218.59L943.46 218.41L943.76 218.23L944.05 218.04L944.35 217.86L944.65 217.67L944.94 217.47L945.24 217.28L945.54 217.08L945.83 216.88L946.13 216.68L946.43 216.47L946.72 216.26L947.02 216.06L947.32 215.85L947.61 215.64L947.91 215.42L948.21 215.21L948.5 215L948.8 214.79L949.1 214.57L949.39 214.36L949.69 214.15L949.99 213.94L950.28 213.73L950.58 213.52L950.88 213.31L951.17 213.1L951.47 212.89L951.77 212.69L952.06 212.48L952.36 212.28L952.66 212.09L952.95 211.89L953.25 211.7L953.55 211.51L953.84 211.32L954.14 211.13L954.44 210.95L954.73 210.78L955.03 210.6L955.33 210.43L955.62 210.27L955.92 210.11L956.22 209.95L956.51 209.8L956.81 209.65L957.11 209.51L957.4 209.37L957.7 209.23L958 209.11L958.29 208.98L958.59 208.87L958.89 208.75L959.18 208.65L959.48 208.55L959.78 208.45L960.07 208.36L960.37 208.28L960.67 208.2L960.96 208.13L961.26 208.07L961.56 208.01L961.85 207.96L962.15 207.91L962.45 207.87L962.74 207.84L963.04 207.81L963.34 207.79L963.63 207.78L963.93 207.77L964.23 207.77L964.52 207.77L964.82 207.78L965.12 207.8L965.41 207.83L965.71 207.86L966.01 207.9L966.3 207.94L966.6 207.99L966.9 208.05L967.19 208.11L967.49 208.18L967.79 208.25L968.08 208.33L968.38 208.42L968.68 208.51L968.97 208.6L969.27 208.71L969.57 208.82L969.86 208.93L970.16 209.05L970.46 209.17L970.75 209.3L971.05 209.44L971.35 209.57L971.64 209.72L971.94 209.87L972.24 210.02L972.53 210.17L972.83 210.33L973.13 210.5L973.42 210.67L973.72 210.84L974.02 211.01L974.31 211.19L974.61 211.37L974.91 211.55L975.2 211.74L975.5 211.93" fill="none" stroke="#0000ff" stroke-width="5" stroke-linejoin="round" stroke-dasharray="45 16.66 11.4 16.66" clip-path="url(#clip-a)"/>
<path d="M1353.34 99.14L1353.64 102.71L1353.93 106.42L1354.23 110.26L1354.53 114.23L1354.83 118.32L1355.12 122.55L1355.42 126.89L1355.72 131.36L1356.01 135.95L1356.31 140.65L1356.61 145.46L1356.91 150.39L1357.2 155.42L1357.5 160.56L1357.8 165.8L1358.09 171.14L1358.39 176.57L1358.69 182.1L1358.99 187.71L1359.28 193.42L1359.58 199.2L1359.88 205.07L1360.17 211.02L1360.47 217.04L1360.77 223.13L1361.07 229.28L1361.36 235.5L1361.66 241.78L1361.96 248.12L1362.25 254.51L1362.55 260.95L1362.85 267.44L1363.15 273.97L1363.44 280.55L1363.74 287.15L1364.04 293.79L1364.33 300.46L1364.63 307.16L1364.93 313.87L1365.23 320.61L1365.52 327.36L1365.82 334.12L1366.12 340.89L1366.41 347.66L1366.71 354.43L1367.01 361.2L1367.31 367.97L1367.6 374.73L1367.9 381.47L1368.2 388.19L1368.49 394.9L1368.79 401.58L1369.09 408.24L1369.39 414.87L1369.68 421.46L1369.98 428.02L1370.28 434.53L1370.57 441.01L1370.87 447.44L1371.17 453.82L1371.47 460.15L1371.76 466.42L1372.06 472.64L1372.36 478.79L1372.65 484.89L1372.95 490.91L1373.25 496.87L1373.55 502.75L1373.84 508.57L1374.14 514.3L1374.44 519.96L1374.73 525.53L1375.03 531.02L1375.33 536.42L1375.63 541.74L1375.92 546.96L1376.22 552.1L1376.52 557.13L1376.81 562.07L1377.11 566.92L1377.41 571.66L1377.71 576.3L1378 580.84L1378.3 585.27L1378.6 589.6L1378.89 593.81L1379.19 597.92L1379.49 601.92L1379.79 605.81L1380.08 609.58L1380.38 613.24L1380.68 616.79L1380.97 620.22L1381.27 623.53L1381.57 626.73L1381.87 629.81L1382.16 632.77L1382.46 635.61L1382.76 638.33L1383.06 640.94L1383.35 643.42L1383.65 645.79L1383.95 648.03L1384.24 650.16L1384.54 652.16L1384.84 654.05L1385.14 655.82L1385.43 657.47L1385.73 659L1386.03 660.42L1386.32 661.71L1386.62 662.9L1386.92 663.96L1387.22 664.91L1387.51 665.75L1387.81 666.47L1388.11 667.08L1388.4 667.58L1388.7 667.97L1389 668.25L1389.3 668.43L1389.59 668.5L1389.89 668.46L1390.19 668.32L1390.48 668.08L1390.78 667.74L1391.08 667.3L1391.38 666.76L1391.67 666.13L1391.97 665.4L1392.27 664.59L1392.56 663.68L1392.86 662.69L1393.16 661.61L1393.46 660.45L1393.75 659.2L1394.05 657.88L1394.35 656.48L1394.64 655L1394.94 653.46L1395.24 651.84L1395.54 650.15L1395.83 648.4L1396.13 646.58L1396.43 644.7L1396.72 642.76L1397.02 640.77L1397.32 638.72L1397.62 636.62L1397.91 634.48L1398.21 632.28L1398.51 630.04L1398.8 627.76L1399.1 625.44L1399.4 623.08L1399.7 620.69L1399.99 618.27L1400.29 615.81L1400.59 613.34L1400.88 610.83L1401.18 608.31L1401.48 605.76L1401.78 603.2L1402.07 600.63L1402.37 598.04L1402.67 595.44L1402.96 592.84L1403.26 590.23L1403.56 587.62L1403.86 585.01L1404.15 582.4L1404.45 579.8L1404.75 577.21L1405.04 574.62L1405.34 572.05L1405.64 569.49L1405.94 566.94L1406.23 564.42L1406.53 561.91L1406.83 559.43L1407.12 556.97L1407.42 554.54L1407.72 552.14L1408.02 549.76L1408.31 547.42L1408.61 545.11L1408.91 542.84L1409.2 540.61L1409.5 538.41L1409.8 536.26L1410.1 534.14L1410.39 532.08L1410.69 530.05L1410.99 528.08L1411.28 526.15L1411.58 524.27L1411.88 522.44L1412.18 520.66L1412.47 518.94L1412.77 517.27L1413.07 515.66L1413.36 514.1L1413.66 512.6L1413.96 511.16L1414.26 509.77L1414.55 508.45L1414.85 507.18L1415.15 505.98L1415.44 504.84L1415.74 503.76L1416.04 502.74L1416.34 501.78L1416.63 500.89L1416.93 500.06L1417.23 499.3L1417.52 498.6L1417.82 497.96L1418.12 497.39L1418.42 496.88L1418.71 496.44L1419.01 496.05L1419.31 495.74L1419.6 495.48L1419.9 495.29L1420.2 495.16L1420.5 495.1L1420.79 495.09L1421.09 495.15L1421.39 495.27L1421.68 495.45L1421.98 495.69L1422.28 495.99L1422.58 496.34L1422.87 496.76L1423.17 497.23L1423.47 497.75L1423.76 498.33L1424.06 498.97L1424.36 499.66L1424.66 500.39L1424.95 501.19L1425.25 502.03L1425.55 502.91L1425.84 503.85L1426.14 504.83L1426.44 505.86L1426.74 506.93L1427.03 508.04L1427.33 509.2L1427.63 510.39L1427.92 511.62L1428.22 512.89L1428.52 514.19L1428.82 515.53L1429.11 516.9L1429.41 518.3L1429.71 519.73L1430 521.19L1430.3 522.67L1430.6 524.18L1430.9 525.71L1431.19 527.27L1431.49 528.84L1431.79 530.43L1432.08 532.04L1432.38 533.66L1432.68 535.3L1432.98 536.95L1433.27 538.61L1433.57 540.27L1433.87 541.95L1434.16 543.63L1434.46 545.31L1434.76 547L1435.06 548.68L1435.35 550.37L1435.65 552.05L1435.95 553.73L1436.24 555.41L1436.54 557.07L1436.84 558.73L1437.14 560.38L1437.43 562.01L1437.73 563.64L1438.03 565.24L1438.32 566.84L1438.62 568.41L1438.92 569.97L1439.22 571.5L1439.51 573.02L1439.81 574.51L1440.11 575.98L1440.4 577.43L1440.7 578.84L1441 580.23L1441.3 581.59L1441.59 582.93L1441.89 584.23L1442.19 585.5L1442.48 586.73L1442.78 587.94L1443.08 589.11L1443.38 590.24L1443.67 591.34L1443.97 592.4L1444.27 593.42L1444.57 594.4L1444.86 595.35L1445.16 596.25L1445.46 597.12L1445.75 597.94L1446.05 598.72L1446.35 599.46L1446.65 600.15L1446.94 600.81L1447.24 601.42L1447.54 601.98L1447.83 602.51L1448.13 602.99L1448.43 603.42L1448.73 603.81L1449.02 604.15L1449.32 604.45L1449.62 604.71L1449.91 604.92L1450.21 605.09L1450.51 605.21L1450.81 605.29L1451.1 605.32L1451.4 605.31L1451.7 605.26L1451.99 605.16L1452.29 605.02L1452.59 604.83L1452.89 604.61L1453.18 604.34L1453.48 604.03L1453.78 603.68L1454.07 603.29L1454.37 602.86L1454.67 602.39L1454.97 601.89L1455.26 601.34L1455.56 600.76L1455.86 600.14L1456.15 599.49L1456.45 598.8L1456.75 598.08L1457.05 597.32L1457.34 596.54L1457.64 595.72L1457.94 594.87L1458.23 593.99L1458.53 593.08L1458.83 592.15L1459.13 591.19L1459.42 590.21L1459.72 589.2L1460.02 588.17L1460.31 587.11L1460.61 586.04L1460.91 584.94L1461.21 583.83L1461.5 582.7L1461.8 581.55L1462.1 580.39L1462.39 579.21L1462.69 578.02L1462.99 576.82L1463.29 575.61L1463.58 574.39L1463.88 573.16L1464.18 571.92L1464.47 570.68L1464.77 569.44L1465.07 568.19L1465.37 566.94L1465.66 565.68L1465.96 564.43L1466.26 563.18L1466.55 561.94L1466.85 560.69L1467.15 559.45L1467.45 558.22L1467.74 557L1468.04 555.78L1468.34 554.57L1468.63 553.37L1468.93 552.19L1469.23 551.02L1469.53 549.86L1469.82 548.72L1470.12 547.59L1470.42 546.48L1470.71 545.38L1471.01 544.31L1471.31 543.25L1471.61 542.22L1471.9 541.21L1472.2 540.21L1472.5 539.25L1472.79 538.3L1473.09 537.38L1473.39 536.49L1473.69 535.62L1473.98 534.78L1474.28 533.97L1474.58 533.18L1474.87 532.43L1475.17 531.7L1475.47 531L1475.77 530.34L1476.06 529.7L1476.36 529.1L1476.66 528.53L1476.95 527.99L1477.25 527.48L1477.55 527L1477.85 526.56L1478.14 526.16L1478.44 525.78L1478.74 525.44L1479.03 525.13L1479.33 524.86L1479.63 524.63L1479.93 524.42L1480.22 524.25L1480.52 524.12L1480.82 524.02L1481.11 523.95L1481.41 523.92L1481.71 523.92L1482.01 523.96L1482.3 524.03L1482.6 524.14L1482.9 524.27L1483.19 524.44L1483.49 524.65L1483.79 524.88L1484.09 525.15L1484.38 525.45L1484.68 525.78L1484.98 526.14L1485.27 526.54L1485.57 526.96L1485.87 527.41L1486.17 527.89L1486.46 528.4L1486.76 528.93L1487.06 529.5L1487.35 530.08L1487.65 530.7L1487.95 531.34L1488.25 532L1488.54 532.69L1488.84 533.4L1489.14 534.13L1489.43 534.89L1489.73 535.66L1490.03 536.45L1490.33 537.26L1490.62 538.09L1490.92 538.94L1491.22 539.8L1491.51 540.68L1491.81 541.58L1492.11 542.48L1492.41 543.4L1492.7 544.33L1493 545.27L1493.3 546.22L1493.59 547.18L1493.89 548.15L1494.19 549.13L1494.49 550.11L1494.78 551.09L1495.08 552.08L1495.38 553.08L1495.67 554.07L1495.97 555.07L1496.27 556.06L1496.57 557.06L1496.86 558.06L1497.16 559.05L1497.46 560.04L1497.75 561.02L1498.05 562L1498.35 562.97L1498.65 563.94L1498.94 564.89L1499.24 565.84L1499.54 566.78L1499.83 567.71L1500.13 568.63L1500.43 569.53L1500.73 570.42L1501.02 571.3L1501.32 572.16L1501.62 573.01L1501.91 573.84L1502.21 574.66L1502.51 575.45L1502.81 576.23L1503.1 576.99L1503.4 577.73L1503.7 578.45L1504 579.15L1504.29 579.83L1504.59 580.48L1504.89 581.12L1505.18 581.73L1505.48 582.31L1505.78 582.88L1506.08 583.41L1506.37 583.93L1506.67 584.41L1506.97 584.88L1507.26 585.31L1507.56 585.72L1507.86 586.11L1508.16 586.46L1508.45 586.79L1508.75 587.09L1509.05 587.37L1509.34 587.62L1509.64 587.84L1509.94 588.03L1510.24 588.19L1510.53 588.33L1510.83 588.43L1511.13 588.51L1511.42 588.56L1511.72 588.59L1512.02 588.58L1512.32 588.55L1512.61 588.49L1512.91 588.4L1513.21 588.29L1513.5 588.14L1513.8 587.97L1514.1 587.78L1514.4 587.56L1514.69 587.31L1514.99 587.04L1515.29 586.74L1515.58 586.41L1515.88 586.06L1516.18 585.69L1516.48 585.29L1516.77 584.87L1517.07 584.43L1517.37 583.97L1517.66 583.48L1517.96 582.97L1518.26 582.44L1518.56 581.89L1518.85 581.33L1519.15 580.74L1519.45 580.13L1519.74 579.51L1520.04 578.87L1520.34 578.21L1520.64 577.54L1520.93 576.85L1521.23 576.15L1521.53 575.44L1521.82 574.71L1522.12 573.97L1522.42 573.22L1522.72 572.46L1523.01 571.68L1523.31 570.9L1523.61 570.11L1523.9 569.32L1524.2 568.51L1524.5 567.71L1524.8 566.89L1525.09 566.07L1525.39 565.25L1525.69 564.42L1525.98 563.6L1526.28 562.77L1526.58 561.94L1526.88 561.11L1527.17 560.29L1527.47 559.46L1527.77 558.64L1528.06 557.82L1528.36 557.01L1528.66 556.2L1528.96 555.39L1529.25 554.59L1529.55 553.81L1529.85 553.02L1530.14 552.25L1530.44 551.49L1530.74 550.73L1531.04 549.99L1531.33 549.26L1531.63 548.54L1531.93 547.83L1532.22 547.14L1532.52 546.46L1532.82 545.8L1533.12 545.15L1533.41 544.52L1533.71 543.9L1534.01 543.3L1534.3 542.72L1534.6 542.15L1534.9 541.6L1535.2 541.08L1535.49 540.57L1535.79 540.08L1536.09 539.61L1536.38 539.16L1536.68 538.74L1536.98 538.33L1537.28 537.95L1537.57 537.58L1537.87 537.24L1538.17 536.93L1538.46 536.63L1538.76 536.36L1539.06 536.11L1539.36 535.88L1539.65 535.68L1539.95 535.5L1540.25 535.34L1540.54 535.21L1540.84 535.1L1541.14 535.01L1541.44 534.95L1541.73 534.91L1542.03 534.9L1542.33 534.91L1542.62 534.94L1542.92 535L1543.22 535.08L1543.52 535.18L1543.81 535.3L1544.11 535.45L1544.41 535.62L1544.7 535.82L1545 536.03L1545.3 536.27L1545.6 536.53L1545.89 536.81L1546.19 537.11L1546.49 537.43L1546.78 537.77L1547.08 538.13L1547.38 538.51L1547.68 538.91L1547.97 539.33L1548.27 539.76L1548.57 540.22L1548.86 540.69L1549.16 541.17L1549.46 541.68L1549.76 542.2L1550.05 542.73L1550.35 543.28L1550.65 543.84L1550.94 544.42L1551.24 545L1551.54 545.6L1551.84 546.22L1552.13 546.84L1552.43 547.47L1552.73 548.12L1553.02 548.77L1553.32 549.43L1553.62 550.1L1553.92 550.77L1554.21 551.45L1554.51 552.14L1554.81 552.83L1555.1 553.53L1555.4 554.23L1555.7 554.94L1556 555.64L1556.29 556.35L1556.59 557.06L1556.89 557.77L1557.18 558.48L1557.48 559.18L1557.78 559.89L1558.08 560.59L1558.37 561.29L1558.67 561.99L1558.97 562.68L1559.26 563.37L1559.56 564.05L1559.86 564.73L1560.16 565.4L1560.45 566.06L1560.75 566.71L1561.05 567.36L1561.35 567.99L1561.64 568.62L1561.94 569.23L1562.24 569.84L1562.53 570.43L1562.83 571.01L1563.13 571.58L1563.43 572.13L1563.72 572.67L1564.02 573.2L1564.32 573.71L1564.61 574.21L1564.91 574.69L1565.21 575.16L1565.51 575.61L1565.8 576.04L1566.1 576.46L1566.4 576.86L1566.69 577.24L1566.99 577.6L1567.29 577.95L1567.59 578.27L1567.88 578.58L1568.18 578.87L1568.48 579.14L1568.77 579.39L1569.07 579.62L1569.37 579.83L1569.67 580.02L1569.96 580.19L1570.26 580.34L1570.56 580.47L1570.85 580.58L1571.15 580.66L1571.45 580.73L1571.75 580.78L1572.04 580.81L1572.34 580.81L1572.64 580.8L1572.93 580.77L1573.23 580.71L1573.53 580.64L1573.83 580.54L1574.12 580.43L1574.42 580.29L1574.72 580.14L1575.01 579.97L1575.31 579.77L1575.61 579.56L1575.91 579.33L1576.2 579.09L1576.5 578.82L1576.8 578.54L1577.09 578.23L1577.39 577.91L1577.69 577.58L1577.99 577.23L1578.28 576.86L1578.58 576.48L1578.88 576.08L1579.17 575.66L1579.47 575.23L1579.77 574.79L1580.07 574.34L1580.36 573.87L1580.66 573.39L1580.96 572.89L1581.25 572.39L1581.55 571.87L1581.85 571.35L1582.15 570.81L1582.44 570.26L1582.74 569.71L1583.04 569.15L1583.33 568.58L1583.63 568L1583.93 567.41L1584.23 566.82L1584.52 566.22L1584.82 565.62L1585.12 565.02L1585.41 564.41L1585.71 563.79L1586.01 563.18L1586.31 562.56L1586.6 561.94L1586.9 561.32L1587.2 560.7L1587.49 560.08L1587.79 559.46L1588.09 558.85L1588.39 558.23L1588.68 557.62L1588.98 557.01L1589.28 556.41L1589.57 555.81L1589.87 555.21L1590.17 554.62L1590.47 554.04L1590.76 553.46L1591.06 552.89L1591.36 552.33L1591.65 551.77L1591.95 551.23L1592.25 550.69L1592.55 550.17L1592.84 549.65L1593.14 549.14L1593.44 548.65L1593.73 548.17L1594.03 547.7L1594.33 547.24L1594.63 546.79L1594.92 546.36L1595.22 545.94L1595.52 545.54L1595.81 545.15L1596.11 544.77L1596.41 544.41L1596.71 544.06L1597 543.73L1597.3 543.42L1597.6 543.12L1597.89 542.84L1598.19 542.58L1598.49 542.33L1598.79 542.1L1599.08 541.88L1599.38 541.69L1599.68 541.51L1599.97 541.35L1600.27 541.2L1600.57 541.08L1600.87 540.97L1601.16 540.88L1601.46 540.81L1601.76 540.75L1602.05 540.72L1602.35 540.7L1602.65 540.7L1602.95 540.72L1603.24 540.75L1603.54 540.81L1603.84 540.88L1604.13 540.97L1604.43 541.08L1604.73 541.2L1605.03 541.34L1605.32 541.5L1605.62 541.68L1605.92 541.87L1606.21 542.08L1606.51 542.3L1606.81 542.54L1607.11 542.8L1607.4 543.07L1607.7 543.36L1608 543.66L1608.29 543.98L1608.59 544.31L1608.89 544.65L1609.19 545.01L1609.48 545.38L1609.78 545.76L1610.08 546.16L1610.37 546.57L1610.67 546.99L1610.97 547.42L1611.27 547.86L1611.56 548.31L1611.86 548.77L1612.16 549.24L1612.45 549.72L1612.75 550.2L1613.05 550.7L1613.35 551.2L1613.64 551.71L1613.94 552.22L1614.24 552.74L1614.53 553.27L1614.83 553.8L1615.13 554.34L1615.43 554.87L1615.72 555.42L1616.02 555.96L1616.32 556.51L1616.61 557.06L1616.91 557.61L1617.21 558.16L1617.51 558.71L1617.8 559.26L1618.1 559.81L1618.4 560.36L1618.69 560.9L1618.99 561.45L1619.29 561.99L1619.59 562.52L1619.88 563.05L1620.18 563.58L1620.48 564.11L1620.78 564.62L1621.07 565.13L1621.37 565.64L1621.67 566.14L1621.96 566.63L1622.26 567.11L1622.56 567.58L1622.86 568.05L1623.15 568.51L1623.45 568.95L1623.75 569.39L1624.04 569.82L1624.34 570.23L1624.64 570.64L1624.94 571.03L1625.23 571.41L1625.53 571.78L1625.83 572.13L1626.12 572.48L1626.42 572.81L1626.72 573.12L1627.02 573.43L1627.31 573.72L1627.61 573.99L1627.91 574.25L1628.2 574.5L1628.5 574.73L1628.8 574.94L1629.1 575.14L1629.39 575.33L1629.69 575.5L1629.99 575.65L1630.28 575.79L1630.58 575.91L1630.88 576.02L1631.18 576.11L1631.47 576.19L1631.77 576.24L1632.07 576.29L1632.36 576.31L1632.66 576.32L1632.96 576.31L1633.26 576.29L1633.55 576.25L1633.85 576.2L1634.15 576.13L1634.44 576.04L1634.74 575.94L1635.04 575.82L1635.34 575.69L1635.63 575.54L1635.93 575.38L1636.23 575.2L1636.52 575.01L1636.82 574.8L1637.12 574.58L1637.42 574.35L1637.71 574.1L1638.01 573.84L1638.31 573.56L1638.6 573.27L1638.9 572.97L1639.2 572.66L1639.5 572.33L1639.79 572L1640.09 571.65L1640.39 571.29L1640.68 570.92L1640.98 570.54L1641.28 570.15L1641.58 569.75L1641.87 569.34L1642.17 568.93L1642.47 568.5L1642.76 568.07L1643.06 567.63L1643.36 567.18L1643.66 566.73L1643.95 566.27L1644.25 565.8L1644.55 565.33L1644.84 564.86L1645.14 564.38L1645.44 563.9L1645.74 563.41L1646.03 562.92L1646.33 562.43L1646.63 561.94L1646.92 561.45L1647.22 560.95L1647.52 560.46L1647.82 559.96L1648.11 559.47L1648.41 558.97L1648.71 558.48L1649 557.99L1649.3 557.5L1649.6 557.02L1649.9 556.54L1650.19 556.06L1650.49 555.58L1650.79 555.12L1651.08 554.65L1651.38 554.19L1651.68 553.74L1651.98 553.29L1652.27 552.86L1652.57 552.42L1652.87 552L1653.16 551.58L1653.46 551.17L1653.76 550.78L1654.06 550.39L1654.35 550L1654.65 549.63L1654.95 549.27L1655.24 548.92L1655.54 548.58L1655.84 548.26L1656.14 547.94L1656.43 547.63L1656.73 547.34L1657.03 547.06L1657.32 546.79L1657.62 546.53L1657.92 546.29L1658.22 546.06L1658.51 545.85L1658.81 545.64L1659.11 545.45L1659.4 545.28L1659.7 545.11L1660 544.97L1660.3 544.83L1660.59 544.71L1660.89 544.61L1661.19 544.52L1661.48 544.44L1661.78 544.38L1662.08 544.34L1662.38 544.3L1662.67 544.29L1662.97 544.28L1663.27 544.29L1663.56 544.32L1663.86 544.36L1664.16 544.42L1664.46 544.49L1664.75 544.57L1665.05 544.67L1665.35 544.78L1665.64 544.9L1665.94 545.04L1666.24 545.2L1666.54 545.36L1666.83 545.54L1667.13 545.74L1667.43 545.94L1667.72 546.16L1668.02 546.39L1668.32 546.63L1668.62 546.89L1668.91 547.15L1669.21 547.43L1669.51 547.72L1669.8 548.02L1670.1 548.33L1670.4 548.65L1670.7 548.98L1670.99 549.32L1671.29 549.66L1671.59 550.02L1671.88 550.39L1672.18 550.76L1672.48 551.14L1672.78 551.53L1673.07 551.92L1673.37 552.33L1673.67 552.73L1673.96 553.15L1674.26 553.57L1674.56 553.99L1674.86 554.42L1675.15 554.85L1675.45 555.29L1675.75 555.73L1676.04 556.17L1676.34 556.61L1676.64 557.06L1676.94 557.51L1677.23 557.96L1677.53 558.41L1677.83 558.86L1678.12 559.31L1678.42 559.76L1678.72 560.21L1679.02 560.65L1679.31 561.1L1679.61 561.54L1679.91 561.98L1680.2 562.42L1680.5 562.85L1680.8 563.28L1681.1 563.7L1681.39 564.12L1681.69 564.54L1681.99 564.95L1682.29 565.35L1682.58 565.75L1682.88 566.14L1683.18 566.52L1683.47 566.9L1683.77 567.27L1684.07 567.63L1684.37 567.98L1684.66 568.32L1684.96 568.65L1685.26 568.98L1685.55 569.29L1685.85 569.6L1686.15 569.89L1686.45 570.18L1686.74 570.45L1687.04 570.71L1687.34 570.96L1687.63 571.2L1687.93 571.43L1688.23 571.65L1688.53 571.85L1688.82 572.05L1689.12 572.23L1689.42 572.39L1689.71 572.55L1690.01 572.69L1690.31 572.82L1690.61 572.94L1690.9 573.04L1691.2 573.13L1691.5 573.21L1691.79 573.27L1692.09 573.32L1692.39 573.36L1692.69 573.38L1692.98 573.39L1693.28 573.39L1693.58 573.37L1693.87 573.34L1694.17 573.3L1694.47 573.25L1694.77 573.18L1695.06 573.1L1695.36 573L1695.66 572.89L1695.95 572.77L1696.25 572.64L1696.55 572.5L1696.85 572.34L1697.14 572.17L1697.44 571.99L1697.74 571.8L1698.03 571.59L1698.33 571.38L1698.63 571.15L1698.93 570.91L1699.22 570.66L1699.52 570.41L1699.82 570.14L1700.11 569.86L1700.41 569.57L1700.71 569.28L1701.01 568.97L1701.3 568.66L1701.6 568.34L1701.9 568.01L1702.19 567.67L1702.49 567.33L1702.79 566.97L1703.09 566.62L1703.38 566.25L1703.68 565.88L1703.98 565.51L1704.27 565.12L1704.57 564.74L1704.87 564.35L1705.17 563.95L1705.46 563.56L1705.76 563.16L1706.06 562.75L1706.35 562.35L1706.65 561.94L1706.95 561.53L1707.25 561.12L1707.54 560.71L1707.84 560.29L1708.14 559.88L1708.43 559.47L1708.73 559.06L1709.03 558.65L1709.33 558.24L1709.62 557.83L1709.92 557.43L1710.22 557.02L1710.51 556.62L1710.81 556.23L1711.11 555.84L1711.41 555.45L1711.7 555.07L1712 554.69L1712.3 554.31L1712.59 553.95L1712.89 553.59L1713.19 553.23L1713.49 552.88L1713.78 552.54L1714.08 552.2L1714.38 551.88L1714.67 551.56L1714.97 551.25L1715.27 550.94L1715.57 550.65L1715.86 550.36L1716.16 550.09L1716.46 549.82L1716.75 549.56L1717.05 549.32L1717.35 549.08L1717.65 548.85L1717.94 548.64L1718.24 548.43L1718.54 548.24L1718.83 548.06L1719.13 547.88L1719.43 547.72L1719.73 547.57L1720.02 547.44L1720.32 547.31L1720.62 547.2L1720.91 547.1L1721.21 547.01L1721.51 546.93L1721.81 546.86L1722.1 546.81L1722.4 546.77L1722.7 546.74L1722.99 546.72L1723.29 546.72L1723.59 546.73L1723.89 546.75L1724.18 546.78L1724.48 546.82L1724.78 546.88L1725.07 546.95L1725.37 547.03L1725.67 547.12L1725.97 547.23L1726.26 547.34L1726.56 547.47L1726.86 547.61L1727.15 547.76L1727.45 547.92L1727.75 548.09L1728.05 548.27L1728.34 548.46L1728.64 548.67L1728.94 548.88L1729.23 549.1L1729.53 549.33L1729.83 549.57L1730.13 549.83L1730.42 550.09L1730.72 550.35L1731.02 550.63L1731.31 550.91L1731.61 551.21L1731.91 551.51L1732.21 551.81L1732.5 552.13L1732.8 552.45L1733.1 552.78L1733.39 553.11L1733.69 553.45L1733.99 553.79L1734.29 554.14L1734.58 554.49L1734.88 554.85L1735.18 555.21L1735.47 555.58L1735.77 555.94L1736.07 556.31L1736.37 556.69L1736.66 557.06L1736.96 557.44L1737.26 557.82L1737.55 558.2L1737.85 558.58L1738.15 558.96L1738.45 559.34L1738.74 559.72L1739.04 560.1L1739.34 560.48L1739.63 560.86L1739.93 561.23L1740.23 561.6L1740.53 561.97L1740.82 562.34L1741.12 562.7L1741.42 563.06L1741.72 563.42L1742.01 563.77L1742.31 564.12L1742.61 564.46L1742.9 564.8L1743.2 565.13L1743.5 565.46L1743.8 565.78L1744.09 566.09L1744.39 566.4L1744.69 566.7L1744.98 566.99L1745.28 567.27L1745.58 567.55L1745.88 567.82L1746.17 568.08L1746.47 568.33L1746.77 568.57L1747.06 568.8L1747.36 569.03L1747.66 569.24L1747.96 569.45L1748.25 569.64L1748.55 569.83L1748.85 570L1749.14 570.17L1749.44 570.32L1749.74 570.47L1750.04 570.6L1750.33 570.72L1750.63 570.83L1750.93 570.93L1751.22 571.02L1751.52 571.1L1751.82 571.17L1752.12 571.22L1752.41 571.27L1752.71 571.3L1753.01 571.32L1753.3 571.33L1753.6 571.33L1753.9 571.32L1754.2 571.3L1754.49 571.26L1754.79 571.21L1755.09 571.16L1755.38 571.09L1755.68 571.01L1755.98 570.92L1756.28 570.82L1756.57 570.71L1756.87 570.58L1757.17 570.45L1757.46 570.31L1757.76 570.15L1758.06 569.99L1758.36 569.82L1758.65 569.64L1758.95 569.44L1759.25 569.24L1759.54 569.03L1759.84 568.81L1760.14 568.59L1760.44 568.35L1760.73 568.1L1761.03 567.85L1761.33 567.59L1761.62 567.33L1761.92 567.05L1762.22 566.77L1762.52 566.48L1762.81 566.19L1763.11 565.89L1763.41 565.58L1763.7 565.27L1764 564.96L1764.3 564.64L1764.6 564.31L1764.89 563.98L1765.19 563.65L1765.49 563.31L1765.78 562.97L1766.08 562.63L1766.38 562.28L1766.68 561.93L1766.97 561.59L1767.27 561.23L1767.57 560.88L1767.86 560.53L1768.16 560.18L1768.46 559.82L1768.76 559.47L1769.05 559.12L1769.35 558.76L1769.65 558.41L1769.94 558.07L1770.24 557.72L1770.54 557.37L1770.84 557.03L1771.13 556.69L1771.43 556.35L1771.73 556.02L1772.02 555.69L1772.32 555.37L1772.62 555.05L1772.92 554.73L1773.21 554.42L1773.51 554.11L1773.81 553.81L1774.1 553.52L1774.4 553.23L1774.7 552.95L1775 552.67L1775.29 552.4L1775.59 552.14L1775.89 551.89L1776.18 551.64L1776.48 551.41L1776.78 551.18L1777.08 550.95L1777.37 550.74L1777.67 550.54L1777.97 550.34L1778.26 550.15L1778.56 549.98L1778.86 549.81L1779.16 549.65L1779.45 549.5L1779.75 549.36L1780.05 549.23L1780.34 549.11L1780.64 549L1780.94 548.9L1781.24 548.82L1781.53 548.74L1781.83 548.67L1782.13 548.61L1782.42 548.57L1782.72 548.53L1783.02 548.5L1783.32 548.49L1783.61 548.48L1783.91 548.49L1784.21 548.5L1784.5 548.53L1784.8 548.57L1785.1 548.62L1785.4 548.67L1785.69 548.74L1785.99 548.82L1786.29 548.91L1786.58 549.01L1786.88 549.12L1787.18 549.24L1787.48 549.36L1787.77 549.5L1788.07 549.65L1788.37 549.8L1788.66 549.97L1788.96 550.14L1789.26 550.33L1789.56 550.52L1789.85 550.72L1790.15 550.93L1790.45 551.14L1790.74 551.37L1791.04 551.6L1791.34 551.83L1791.64 552.08L1791.93 552.33L1792.23 552.59L1792.53 552.86L1792.82 553.13L1793.12 553.4L1793.42 553.69L1793.72 553.97L1794.01 554.27L1794.31 554.56L1794.61 554.86L1794.9 555.17L1795.2 555.48L1795.5 555.79L1795.8 556.11L1796.09 556.42L1796.39 556.74L1796.69 557.07L1796.98 557.39L1797.28 557.72L1797.58 558.05L1797.88 558.38L1798.17 558.71L1798.47 559.04L1798.77 559.37L1799.07 559.69L1799.36 560.02L1799.66 560.35L1799.96 560.68L1800.25 561L1800.55 561.33L1800.85 561.65L1801.15 561.97L1801.44 562.28L1801.74 562.6L1802.04 562.9L1802.33 563.21L1802.63 563.51L1802.93 563.81L1803.23 564.1L1803.52 564.39L1803.82 564.67L1804.12 564.95L1804.41 565.22L1804.71 565.49L1805.01 565.75L1805.31 566.01L1805.6 566.25L1805.9 566.49L1806.2 566.73L1806.49 566.95L1806.79 567.17L1807.09 567.38L1807.39 567.59L1807.68 567.78L1807.98 567.97L1808.28 568.15L1808.57 568.32L1808.87 568.48L1809.17 568.64L1809.47 568.78L1809.76 568.92L1810.06 569.04L1810.36 569.16L1810.65 569.26L1810.95 569.36L1811.25 569.45L1811.55 569.53L1811.84 569.6L1812.14 569.66L1812.44 569.71L1812.73 569.75L1813.03 569.78L1813.33 569.8L1813.63 569.81L1813.92 569.8L1814.22 569.8L1814.52 569.78L1814.81 569.75L1815.11 569.71L1815.41 569.66L1815.71 569.6L1816 569.53L1816.3 569.45L1816.6 569.36L1816.89 569.27L1817.19 569.16L1817.49 569.05L1817.79 568.92L1818.08 568.79L1818.38 568.65L1818.68 568.5L1818.97 568.34L1819.27 568.17L1819.57 568L1819.87 567.82L1820.16 567.63L1820.46 567.43L1820.76 567.22L1821.05 567.01L1821.35 566.79L1821.65 566.56L1821.95 566.33L1822.24 566.09L1822.54 565.85L1822.84 565.6L1823.13 565.34L1823.43 565.08L1823.73 564.81L1824.03 564.54L1824.32 564.26L1824.62 563.98L1824.92 563.7L1825.21 563.41L1825.51 563.12L1825.81 562.83L1826.11 562.53L1826.4 562.23L1826.7 561.93L1827 561.63L1827.29 561.32L1827.59 561.01L1827.89 560.71L1828.19 560.4L1828.48 560.09L1828.78 559.78L1829.08 559.47L1829.37 559.16L1829.67 558.85L1829.97 558.55L1830.27 558.24L1830.56 557.94L1830.86 557.63L1831.16 557.33L1831.45 557.04L1831.75 556.74L1832.05 556.45L1832.35 556.16L1832.64 555.88L1832.94 555.6L1833.24 555.32L1833.53 555.05L1833.83 554.78L1834.13 554.51L1834.43 554.26L1834.72 554L1835.02 553.75L1835.32 553.51L1835.61 553.28L1835.91 553.05L1836.21 552.83L1836.51 552.61L1836.8 552.4L1837.1 552.2L1837.4 552L1837.69 551.81L1837.99 551.63L1838.29 551.46L1838.59 551.3L1838.88 551.14L1839.18 550.99L1839.48 550.85L1839.77 550.72L1840.07 550.6L1840.37 550.49L1840.67 550.38L1840.96 550.28L1841.26 550.2L1841.56 550.12L1841.85 550.05L1842.15 549.99L1842.45 549.94L1842.75 549.89L1843.04 549.86L1843.34 549.84L1843.64 549.82L1843.93 549.82L1844.23 549.82L1844.53 549.84L1844.83 549.86L1845.12 549.89L1845.42 549.93L1845.72 549.98L1846.01 550.04L1846.31 550.11L1846.61 550.19L1846.91 550.27L1847.2 550.37L1847.5 550.47L1847.8 550.58L1848.09 550.71L1848.39 550.83L1848.69 550.97L1848.99 551.12L1849.28 551.27L1849.58 551.43L1849.88 551.6L1850.17 551.77L1850.47 551.95L1850.77 552.14L1851.07 552.34L1851.36 552.54L1851.66 552.75L1851.96 552.97L1852.25 553.19L1852.55 553.42L1852.85 553.65L1853.15 553.89L1853.44 554.13L1853.74 554.38L1854.04 554.63L1854.33 554.89L1854.63 555.15L1854.93 555.42L1855.23 555.68L1855.52 555.96L1855.82 556.23L1856.12 556.51L1856.41 556.79L1856.71 557.07L1857.01 557.36L1857.31 557.64L1857.6 557.93L1857.9 558.22L1858.2 558.51L1858.49 558.8L1858.79 559.09L1859.09 559.38L1859.39 559.67L1859.68 559.96L1859.98 560.25L1860.28 560.54L1860.58 560.83L1860.87 561.12L1861.17 561.4L1861.47 561.68L1861.76 561.96L1862.06 562.24L1862.36 562.51L1862.66 562.78L1862.95 563.05L1863.25 563.31L1863.55 563.57L1863.84 563.82L1864.14 564.07L1864.44 564.32L1864.74 564.56L1865.03 564.8L1865.33 565.03L1865.63 565.25L1865.92 565.47L1866.22 565.68L1866.52 565.89L1866.82 566.09L1867.11 566.29L1867.41 566.47L1867.71 566.65L1868 566.83L1868.3 566.99L1868.6 567.15L1868.9 567.3L1869.19 567.45L1869.49 567.58L1869.79 567.71L1870.08 567.83L1870.38 567.94L1870.68 568.05L1870.98 568.14L1871.27 568.23L1871.57 568.31L1871.87 568.38L1872.16 568.44L1872.46 568.49L1872.76 568.54L1873.06 568.57L1873.35 568.6L1873.65 568.62L1873.95 568.63L1874.24 568.63L1874.54 568.62L1874.84 568.6L1875.14 568.58L1875.43 568.54L1875.73 568.5L1876.03 568.45L1876.32 568.39L1876.62 568.32L1876.92 568.24L1877.22 568.16L1877.51 568.06L1877.81 567.96L1878.11 567.85L1878.4 567.74L1878.7 567.61L1879 567.48L1879.3 567.34L1879.59 567.19L1879.89 567.04L1880.19 566.87L1880.48 566.71L1880.78 566.53L1881.08 566.35L1881.38 566.16L1881.67 565.97L1881.97 565.77L1882.27 565.56L1882.56 565.35L1882.86 565.13L1883.16 564.91L1883.46 564.68L1883.75 564.45L1884.05 564.21L1884.35 563.97L1884.64 563.73L1884.94 563.48L1885.24 563.23L1885.54 562.97L1885.83 562.71L1886.13 562.45L1886.43 562.19L1886.72 561.92L1887.02 561.66L1887.32 561.39L1887.62 561.12L1887.91 560.84L1888.21 560.57L1888.51 560.3L1888.8 560.02L1889.1 559.75L1889.4 559.47L1889.7 559.2L1889.99 558.92L1890.29 558.65L1890.59 558.38L1890.88 558.11L1891.18 557.84L1891.48 557.57L1891.78 557.31L1892.07 557.04L1892.37 556.78L1892.67 556.53L1892.96 556.27L1893.26 556.02L1893.56 555.78L1893.86 555.53L1894.15 555.29L1894.45 555.06L1894.75 554.83L1895.04 554.6L1895.34 554.38L1895.64 554.17L1895.94 553.96L1896.23 553.75L1896.53 553.56L1896.83 553.36L1897.12 553.18L1897.42 553L1897.72 552.82L1898.02 552.65L1898.31 552.49L1898.61 552.34L1898.91 552.19L1899.2 552.05L1899.5 551.92L1899.8 551.79L1900.1 551.68L1900.39 551.57L1900.69 551.47L1900.99 551.37L1901.28 551.28L1901.58 551.21L1901.88 551.14L1902.18 551.07L1902.47 551.02L1902.77 550.97L1903.07 550.93L1903.36 550.91L1903.66 550.88L1903.96 550.87L1904.26 550.87L1904.55 550.87L1904.85 550.88L1905.15 550.9L1905.44 550.93L1905.74 550.97L1906.04 551.01L1906.34 551.06L1906.63 551.12L1906.93 551.19L1907.23 551.27L1907.52 551.35L1907.82 551.44L1908.12 551.54L1908.42 551.65L1908.71 551.76L1909.01 551.89L1909.31 552.02L1909.6 552.15L1909.9 552.29L1910.2 552.44L1910.5 552.6L1910.79 552.76L1911.09 552.93L1911.39 553.11L1911.68 553.29L1911.98 553.47L1912.28 553.67L1912.58 553.86L1912.87 554.07L1913.17 554.27L1913.47 554.49L1913.76 554.7L1914.06 554.93L1914.36 555.15L1914.66 555.38L1914.95 555.61L1915.25 555.85L1915.55 556.09L1915.84 556.33L1916.14 556.58L1916.44 556.83L1916.74 557.08L1917.03 557.33L1917.33 557.59L1917.63 557.84L1917.93 558.1L1918.22 558.36L1918.52 558.62L1918.82 558.88L1919.11 559.14L1919.41 559.4L1919.71 559.66L1920.01 559.92L1920.3 560.18L1920.6 560.44L1920.9 560.69L1921.19 560.95L1921.49 561.2L1921.79 561.45L1922.09 561.7L1922.38 561.95L1922.68 562.2L1922.98 562.44L1923.27 562.68L1923.57 562.91L1923.87 563.15L1924.17 563.37L1924.46 563.6L1924.76 563.82L1925.06 564.04L1925.35 564.25L1925.65 564.45L1925.95 564.66L1926.25 564.85L1926.54 565.04L1926.84 565.23L1927.14 565.41L1927.43 565.58L1927.73 565.75L1928.03 565.91L1928.33 566.07L1928.62 566.22L1928.92 566.36L1929.22 566.5L1929.51 566.63L1929.81 566.75L1930.11 566.86L1930.41 566.97L1930.7 567.07L1931 567.17L1931.3 567.25L1931.59 567.33L1931.89 567.4L1932.19 567.46L1932.49 567.52L1932.78 567.57L1933.08 567.61L1933.38 567.64L1933.67 567.66L1933.97 567.68L1934.27 567.69L1934.57 567.69L1934.86 567.68L1935.16 567.67L1935.46 567.65L1935.75 567.62L1936.05 567.58L1936.35 567.53L1936.65 567.48L1936.94 567.42L1937.24 567.35L1937.54 567.27L1937.83 567.19L1938.13 567.1L1938.43 567L1938.73 566.9L1939.02 566.78L1939.32 566.67L1939.62 566.54L1939.91 566.41L1940.21 566.27L1940.51 566.12L1940.81 565.97L1941.1 565.82L1941.4 565.65L1941.7 565.48L1941.99 565.31L1942.29 565.13L1942.59 564.94L1942.89 564.75L1943.18 564.56L1943.48 564.36L1943.78 564.16L1944.07 563.95L1944.37 563.74L1944.67 563.52L1944.97 563.3L1945.26 563.08L1945.56 562.85L1945.86 562.62L1946.15 562.39L1946.45 562.15L1946.75 561.92L1947.05 561.68L1947.34 561.44L1947.64 561.19L1947.94 560.95L1948.23 560.71L1948.53 560.46L1948.83 560.21L1949.13 559.97L1949.42 559.72L1949.72 559.47L1950.02 559.22L1950.31 558.98L1950.61 558.73L1950.91 558.49L1951.21 558.24L1951.5 558L1951.8 557.76L1952.1 557.52L1952.39 557.29L1952.69 557.05L1952.99 556.82L1953.29 556.59L1953.58 556.37L1953.88 556.14L1954.18 555.93L1954.47 555.71L1954.77 555.5L1955.07 555.29L1955.37 555.09L1955.66 554.89L1955.96 554.69L1956.26 554.5L1956.55 554.32L1956.85 554.14L1957.15 553.97L1957.45 553.8L1957.74 553.64L1958.04 553.48L1958.34 553.33L1958.63 553.18L1958.93 553.04L1959.23 552.91L1959.53 552.78L1959.82 552.66L1960.12 552.55L1960.42 552.45L1960.71 552.35L1961.01 552.25L1961.31 552.17L1961.61 552.09L1961.9 552.02L1962.2 551.95L1962.5 551.9L1962.79 551.85L1963.09 551.81L1963.39 551.77L1963.69 551.74L1963.98 551.73L1964.28 551.71L1964.58 551.71L1964.87 551.71L1965.17 551.72L1965.47 551.74L1965.77 551.76L1966.06 551.8L1966.36 551.84L1966.66 551.88L1966.95 551.94L1967.25 552L1967.55 552.07L1967.85 552.14L1968.14 552.23L1968.44 552.32L1968.74 552.41L1969.03 552.52L1969.33 552.62L1969.63 552.74L1969.93 552.86L1970.22 552.99L1970.52 553.13L1970.82 553.27L1971.11 553.41L1971.41 553.57L1971.71 553.72L1972.01 553.89L1972.3 554.06L1972.6 554.23L1972.9 554.41L1973.19 554.59L1973.49 554.78L1973.79 554.97L1974.09 555.17L1974.38 555.37L1974.68 555.57L1974.98 555.78L1975.27 555.99L1975.57 556.2L1975.87 556.42L1976.17 556.64L1976.46 556.86L1976.76 557.09L1977.06 557.31L1977.36 557.54L1977.65 557.77L1977.95 558L1978.25 558.24L1978.54 558.47L1978.84 558.7L1979.14 558.94L1979.44 559.18L1979.73 559.41L1980.03 559.65L1980.33 559.88L1980.62 560.12L1980.92 560.35L1981.22 560.58L1981.52 560.81L1981.81 561.04L1982.11 561.27L1982.41 561.5L1982.7 561.72L1983 561.94L1983.3 562.16L1983.6 562.38L1983.89 562.59L1984.19 562.8L1984.49 563.01L1984.78 563.21L1985.08 563.41L1985.38 563.61L1985.68 563.8L1985.97 563.99L1986.27 564.17L1986.57 564.35L1986.86 564.52L1987.16 564.69L1987.46 564.85L1987.76 565.01L1988.05 565.17L1988.35 565.31L1988.65 565.45L1988.94 565.59L1989.24 565.72L1989.54 565.84L1989.84 565.96L1990.13 566.07L1990.43 566.18L1990.73 566.27L1991.02 566.36L1991.32 566.45L1991.62 566.53L1991.92 566.6L1992.21 566.66L1992.51 566.72L1992.81 566.77L1993.1 566.82L1993.4 566.85L1993.7 566.88L1994 566.9L1994.29 566.92L1994.59 566.93L1994.89 566.93L1995.18 566.92L1995.48 566.91L1995.78 566.89L1996.08 566.86L1996.37 566.83L1996.67 566.79L1996.97 566.74L1997.26 566.68L1997.56 566.62L1997.86 566.55L1998.16 566.48L1998.45 566.39L1998.75 566.31L1999.05 566.21L1999.34 566.11L1999.64 566L1999.94 565.89L2000.24 565.77L2000.53 565.64L2000.83 565.51L2001.13 565.38L2001.42 565.23L2001.72 565.08L2002.02 564.93L2002.32 564.77L2002.61 564.61L2002.91 564.44L2003.21 564.27L2003.5 564.09L2003.8 563.91L2004.1 563.73L2004.4 563.54L2004.69 563.35L2004.99 563.15L2005.29 562.95L2005.58 562.75L2005.88 562.54L2006.18 562.33L2006.48 562.12L2006.77 561.91L2007.07 561.69L2007.37 561.48L2007.66 561.26L2007.96 561.04L2008.26 560.82L2008.56 560.59L2008.85 560.37L2009.15 560.15L2009.45 559.92L2009.74 559.7L2010.04 559.47L2010.34 559.25L2010.64 559.02L2010.93 558.8L2011.23 558.58L2011.53 558.36L2011.82 558.14L2012.12 557.92L2012.42 557.7L2012.72 557.48L2013.01 557.27L2013.31 557.06L2013.61 556.85L2013.9 556.65L2014.2 556.45L2014.5 556.25L2014.8 556.05L2015.09 555.86L2015.39 555.67L2015.69 555.48L2015.98 555.3L2016.28 555.13L2016.58 554.95L2016.88 554.78L2017.17 554.62L2017.47 554.46L2017.77 554.31L2018.06 554.16L2018.36 554.02L2018.66 553.88L2018.96 553.75L2019.25 553.62L2019.55 553.5L2019.85 553.38L2020.14 553.28L2020.44 553.17L2020.74 553.08L2021.04 552.98L2021.33 552.9L2021.63 552.82L2021.93 552.75L2022.22 552.69L2022.52 552.63L2022.82 552.58L2023.12 552.53L2023.41 552.49L2023.71 552.46L2024.01 552.44L2024.3 552.42L2024.6 552.41L2024.9 552.4L2025.2 552.4L2025.49 552.41L2025.79 552.43L2026.09 552.45L2026.38 552.48L2026.68 552.52L2026.98 552.56L2027.28 552.61L2027.57 552.66L2027.87 552.73L2028.17 552.8L2028.46 552.87L2028.76 552.95L2029.06 553.04L2029.36 553.13L2029.65 553.23L2029.95 553.34L2030.25 553.45L2030.54 553.57L2030.84 553.69L2031.14 553.82L2031.44 553.95L2031.73 554.09L2032.03 554.23L2032.33 554.38L2032.62 554.54L2032.92 554.69L2033.22 554.86L2033.52 555.02L2033.81 555.2L2034.11 555.37L2034.41 555.55L2034.7 555.73L2035 555.92L2035.3 556.11L2035.6 556.3L2035.89 556.49L2036.19 556.69L2036.49 556.89L2036.78 557.09L2037.08 557.3L2037.38 557.51L2037.68 557.71L2037.97 557.92L2038.27 558.14L2038.57 558.35L2038.87 558.56L2039.16 558.78L2039.46 558.99L2039.76 559.21L2040.05 559.42L2040.35 559.64L2040.65 559.85L2040.95 560.06L2041.24 560.28L2041.54 560.49L2041.84 560.7L2042.13 560.91L2042.43 561.12L2042.73 561.33L2043.03 561.53L2043.32 561.73L2043.62 561.93L2043.92 562.13L2044.21 562.33L2044.51 562.52L2044.81 562.71L2045.11 562.89L2045.4 563.08L2045.7 563.26L2046 563.43L2046.29 563.6L2046.59 563.77L2046.89 563.93L2047.19 564.09L2047.48 564.25L2047.78 564.4L2048.08 564.54L2048.37 564.68L2048.67 564.81L2048.97 564.94L2049.27 565.07L2049.56 565.19L2049.86 565.3L2050.16 565.41L2050.45 565.51L2050.75 565.6L2051.05 565.69L2051.35 565.78L2051.64 565.86L2051.94 565.93L2052.24 565.99L2052.53 566.05L2052.83 566.11L2053.13 566.15L2053.43 566.19L2053.72 566.23L2054.02 566.25L2054.32 566.27L2054.61 566.29L2054.91 566.3L2055.21 566.3L2055.51 566.29L2055.8 566.28L2056.1 566.26L2056.4 566.24L2056.69 566.21L2056.99 566.17L2057.29 566.12L2057.59 566.07L2057.88 566.02L2058.18 565.95L2058.48 565.89L2058.77 565.81L2059.07 565.73L2059.37 565.64L2059.67 565.55L2059.96 565.45L2060.26 565.35L2060.56 565.24L2060.85 565.12L2061.15 565L2061.45 564.88L2061.75 564.75L2062.04 564.61L2062.34 564.47L2062.64 564.33L2062.93 564.18L2063.23 564.03L2063.53 563.87L2063.83 563.71L2064.12 563.54L2064.42 563.37L2064.72 563.2L2065.01 563.02L2065.31 562.84L2065.61 562.66L2065.91 562.47L2066.2 562.29L2066.5 562.09" fill="none" stroke="#ff0000" stroke-width="5" stroke-linejoin="round" clip-path="url(#clip-b)"/>
<path d="M256.5 994.5L975.5 1497" fill="none" stroke="#0000ff" stroke-width="5" stroke-linejoin="round" stroke-dasharray="45 16.66 11.4 16.66" clip-path="url(#clip-c)"/>
<path d="M1346.5 994.5L1350.1 995.92L1353.7 997.35L1357.3 998.79L1360.9 1000.25L1364.5 1001.72L1368.1 1003.2L1371.7 1004.7L1375.3 1006.21L1378.9 1007.74L1382.5 1009.28L1386.1 1010.83L1389.7 1012.39L1393.3 1013.98L1396.9 1015.57L1400.5 1017.18L1404.1 1018.8L1407.7 1020.43L1411.3 1022.08L1414.9 1023.75L1418.5 1025.42L1422.1 1027.11L1425.7 1028.82L1429.3 1030.53L1432.9 1032.27L1436.5 1034.01L1440.1 1035.77L1443.7 1037.54L1447.3 1039.33L1450.9 1041.13L1454.5 1042.94L1458.1 1044.77L1461.7 1046.61L1465.3 1048.47L1468.9 1050.33L1472.5 1052.22L1476.1 1054.11L1479.7 1056.02L1483.3 1057.95L1486.9 1059.88L1490.5 1061.83L1494.1 1063.8L1497.7 1065.78L1501.3 1067.77L1504.9 1069.77L1508.5 1071.79L1512.1 1073.83L1515.7 1075.87L1519.3 1077.94L1522.9 1080.01L1526.5 1082.1L1530.1 1084.2L1533.7 1086.32L1537.3 1088.44L1540.9 1090.59L1544.5 1092.74L1548.1 1094.91L1551.7 1097.1L1555.3 1099.3L1558.9 1101.51L1562.5 1103.73L1566.1 1105.97L1569.7 1108.23L1573.3 1110.49L1576.9 1112.77L1580.5 1115.07L1584.1 1117.37L1587.7 1119.7L1591.3 1122.03L1594.9 1124.38L1598.5 1126.74L1602.1 1129.12L1605.7 1131.51L1609.3 1133.91L1612.9 1136.33L1616.5 1138.76L1620.1 1141.21L1623.7 1143.66L1627.3 1146.14L1630.9 1148.62L1634.5 1151.12L1638.1 1153.64L1641.7 1156.16L1645.3 1158.7L1648.9 1161.26L1652.5 1163.83L1656.1 1166.41L1659.7 1169.01L1663.3 1171.62L1666.9 1174.24L1670.5 1176.88L1674.1 1179.53L1677.7 1182.19L1681.3 1184.87L1684.9 1187.56L1688.5 1190.27L1692.1 1192.99L1695.7 1195.72L1699.3 1198.47L1702.9 1201.23L1706.5 1204L1710.1 1206.79L1713.7 1209.59L1717.3 1212.41L1720.9 1215.24L1724.5 1218.08L1728.1 1220.93L1731.7 1223.8L1735.3 1226.69L1738.9 1229.59L1742.5 1232.5L1746.1 1235.42L1749.7 1238.36L1753.3 1241.31L1756.9 1244.28L1760.5 1247.26L1764.1 1250.26L1767.7 1253.26L1771.3 1256.28L1774.9 1259.32L1778.5 1262.37L1782.1 1265.43L1785.7 1268.51L1789.3 1271.6L1792.9 1274.7L1796.5 1277.82L1800.1 1280.95L1803.7 1284.09L1807.3 1287.25L1810.9 1290.42L1814.5 1293.61L1818.1 1296.81L1821.7 1300.02L1825.3 1303.25L1828.9 1306.49L1832.5 1309.74L1836.1 1313.01L1839.7 1316.29L1843.3 1319.59L1846.9 1322.9L1850.5 1326.22L1854.1 1329.56L1857.7 1332.91L1861.3 1336.27L1864.9 1339.65L1868.5 1343.04L1872.1 1346.45L1875.7 1349.87L1879.3 1353.3L1882.9 1356.75L1886.5 1360.21L1890.1 1363.68L1893.7 1367.17L1897.3 1370.67L1900.9 1374.19L1904.5 1377.72L1908.1 1381.26L1911.7 1384.82L1915.3 1388.39L1918.9 1391.97L1922.5 1395.57L1926.1 1399.18L1929.7 1402.8L1933.3 1406.44L1936.9 1410.09L1940.5 1413.76L1944.1 1417.44L1947.7 1421.13L1951.3 1424.84L1954.9 1428.56L1958.5 1432.3L1962.1 1436.05L1965.7 1439.81L1969.3 1443.58L1972.9 1447.37L1976.5 1451.18L1980.1 1454.99L1983.7 1458.83L1987.3 1462.67L1990.9 1466.53L1994.5 1470.4L1998.1 1474.29L2001.7 1478.19L2005.3 1482.1L2008.9 1486.03L2012.5 1489.97L2016.1 1493.92L2019.7 1497.89L2023.3 1501.87L2026.9 1505.87L2030.5 1509.88L2034.1 1513.9L2037.7 1517.93L2041.3 1521.99L2044.9 1526.05L2048.5 1530.13L2052.1 1534.22L2055.7 1538.32L2059.3 1542.44L2062.9 1546.58L2066.5 1550.72" fill="none" stroke="#ff0000" stroke-width="5" stroke-linejoin="round" clip-path="url(#clip-d)"/>
<text class="tk" x="233.50" y="748.00">0</text>
<text class="tk" x="572.50" y="747.00">50</text>
<text class="tk" x="908.75" y="748.00">100</text>
<text class="tk gr" x="258.75" y="100.00" style="font-size:81px">×</text>
<text class="tk" x="311.00" y="89.00">10</text>
<text class="ex" x="395.25" y="61.00">-4</text>
<text class="tk" x="1323.50" y="748.00">0</text>
<text class="tk" x="1662.50" y="747.00">50</text>
<text class="tk" x="1998.75" y="748.00">100</text>
<text class="tk gr" x="1348.75" y="100.00" style="font-size:81px">×</text>
<text class="tk" x="1401.00" y="89.00">10</text>
<text class="ex" x="1486.25" y="61.00">-3</text>
<text class="tk" x="233.50" y="1630.00">0</text>
<text class="tk" x="572.50" y="1629.00">50</text>
<text class="tk" x="908.75" y="1630.00">100</text>
<text class="tk gr" x="258.75" y="988.00" style="font-size:81px">×</text>
<text class="tk" x="311.00" y="977.00">10</text>
<text class="ex" x="395.25" y="949.00">-4</text>
<text class="tk" x="1323.50" y="1630.00">0</text>
<text class="tk" x="1662.50" y="1629.00">50</text>
<text class="tk" x="1998.75" y="1630.00">100</text>
<text class="tk gr" x="1348.75" y="988.00" style="font-size:81px">×</text>
<text class="tk" x="1401.00" y="977.00">10</text>
<text class="ex" x="1486.25" y="949.00">-3</text>
<text class="tt" x="589.00" y="71.00">a</text>
<text class="tt" x="1677.25" y="72.00">b</text>
<text class="tt" x="593.00" y="959.00">c</text>
<text class="tt" x="1677.50" y="960.00">d</text>
<text class="lb om" transform="translate(457.75 831.00) scale(0.93 1)" style="font-size:77.3px">Ω</text>
<text class="sb" x="515.00" y="866.00">c</text>
<text class="lb" x="567.50" y="831.00">(THz)</text>
<text class="lb om" transform="translate(1547.75 831.00) scale(0.93 1)" style="font-size:77.3px">Ω</text>
<text class="sb" x="1605.00" y="866.00">c</text>
<text class="lb" x="1657.50" y="831.00">(THz)</text>
<text class="lb gr" transform="translate(491.25 1714.00) scale(1.18 1)" style="font-size:80.9px">Δ</text>
<text class="sb" x="554.00" y="1748.00">c</text>
<text class="lb" x="587.75" y="1715.00">/</text>
<text class="lb mi" transform="translate(607.75 1716.00) skewX(-15) scale(1.115 1)" style="font-size:63.5px">γ</text>
<text class="sb" x="654.00" y="1747.00">13</text>
<text class="lb gr" transform="translate(1581.25 1714.00) scale(1.18 1)" style="font-size:80.9px">Δ</text>
<text class="sb" x="1644.00" y="1748.00">c</text>
<text class="lb" x="1677.75" y="1715.00">/</text>
<text class="lb mi" transform="translate(1697.75 1716.00) skewX(-15) scale(1.115 1)" style="font-size:63.5px">γ</text>
<text class="sb" x="1744.00" y="1747.00">13</text>
<text class="tk" x="192.75" y="237.00">0</text>
<text class="tk" x="172.50" y="384.00">-2</text>
<text class="tk" x="170.50" y="529.00">-4</text>
<text class="tk" x="172.00" y="675.00">-6</text>
<text class="tk" x="1244.50" y="190.00">20</text>
<text class="tk" x="1243.25" y="386.00">10</text>
<text class="tk" x="1283.75" y="582.00">0</text>
<text class="tk" x="172.00" y="1086.00">-1</text>
<text class="tk" x="109.00" y="1329.00">-1.5</text>
<text class="tk" x="172.50" y="1574.00">-2</text>
<text class="tk" x="1136.50" y="1078.00">3.192</text>
<text class="tk" x="1175.25" y="1274.00">3.19</text>
<text class="tk" x="1136.25" y="1470.00">3.188</text>
<text class="lb" transform="translate(138.00 494.25) rotate(-90)">Re</text>
<text class="lb" transform="translate(138.00 403.00) rotate(-90)">[</text>
<text class="lb mi" transform="translate(140.00 368.00) rotate(-90) skewX(-15)" style="font-size:61px">χ</text>
<text class="lb" transform="translate(138.00 319.25) rotate(-90)">]</text>
<text class="lb" transform="translate(1212.00 494.00) rotate(-90)">Im</text>
<text class="lb" transform="translate(1212.00 415.00) rotate(-90)">[</text>
<text class="lb mi" transform="translate(1214.00 368.00) rotate(-90) skewX(-15)" style="font-size:61px">χ</text>
<text class="lb" transform="translate(1212.00 319.25) rotate(-90)">]</text>
<text class="lb" transform="translate(76.00 1376.25) rotate(-90)">Re</text>
<text class="lb" transform="translate(76.00 1285.00) rotate(-90)">[</text>
<text class="lb mi" transform="translate(78.00 1250.00) rotate(-90) skewX(-15)" style="font-size:61px">χ</text>
<text class="lb" transform="translate(76.00 1201.25) rotate(-90)">]</text>
<text class="lb" transform="translate(1105.00 1376.00) rotate(-90)">Im</text>
<text class="lb" transform="translate(1105.00 1297.00) rotate(-90)">[</text>
<text class="lb mi" transform="translate(1107.00 1250.00) rotate(-90) skewX(-15)" style="font-size:61px">χ</text>
<text class="lb" transform="translate(1105.00 1201.25) rotate(-90)">]</text>
</svg>
</body></html>
